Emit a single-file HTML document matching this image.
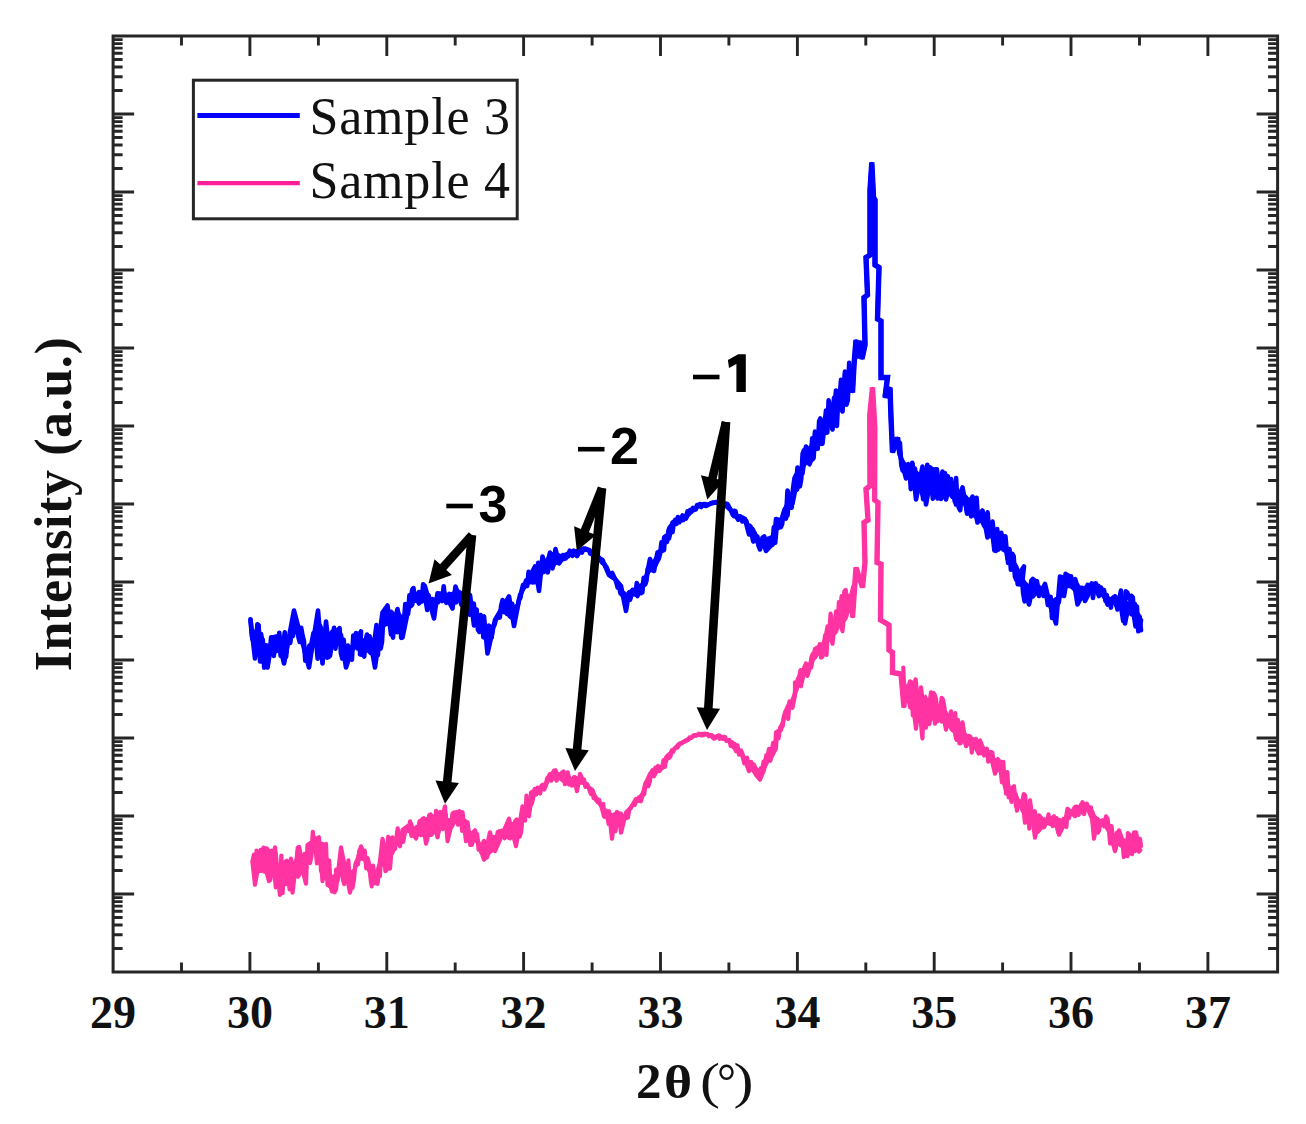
<!DOCTYPE html>
<html><head><meta charset="utf-8"><title>XRD</title>
<style>html,body{margin:0;padding:0;background:#fff;}body{width:1306px;height:1124px;overflow:hidden;}svg{display:block;}text{font-family:"Liberation Serif",serif;}</style>
</head><body>
<svg width="1306" height="1124" viewBox="0 0 1306 1124">
<rect width="1306" height="1124" fill="#fff"/>
<path d="M113.1,90.5h9.5 M1277.6,90.5h-9.5 M113.1,76.8h9.5 M1277.6,76.8h-9.5 M113.1,67.0h9.5 M1277.6,67.0h-9.5 M113.1,59.5h9.5 M1277.6,59.5h-9.5 M113.1,53.3h9.5 M1277.6,53.3h-9.5 M113.1,48.1h9.5 M1277.6,48.1h-9.5 M113.1,43.6h9.5 M1277.6,43.6h-9.5 M113.1,39.6h9.5 M1277.6,39.6h-9.5 M113.1,114.0h21 M1277.6,114.0h-21 M113.1,168.5h9.5 M1277.6,168.5h-9.5 M113.1,154.8h9.5 M1277.6,154.8h-9.5 M113.1,145.0h9.5 M1277.6,145.0h-9.5 M113.1,137.5h9.5 M1277.6,137.5h-9.5 M113.1,131.3h9.5 M1277.6,131.3h-9.5 M113.1,126.1h9.5 M1277.6,126.1h-9.5 M113.1,121.6h9.5 M1277.6,121.6h-9.5 M113.1,117.6h9.5 M1277.6,117.6h-9.5 M113.1,192.0h21 M1277.6,192.0h-21 M113.1,246.5h9.5 M1277.6,246.5h-9.5 M113.1,232.8h9.5 M1277.6,232.8h-9.5 M113.1,223.0h9.5 M1277.6,223.0h-9.5 M113.1,215.5h9.5 M1277.6,215.5h-9.5 M113.1,209.3h9.5 M1277.6,209.3h-9.5 M113.1,204.1h9.5 M1277.6,204.1h-9.5 M113.1,199.6h9.5 M1277.6,199.6h-9.5 M113.1,195.6h9.5 M1277.6,195.6h-9.5 M113.1,270.0h21 M1277.6,270.0h-21 M113.1,324.5h9.5 M1277.6,324.5h-9.5 M113.1,310.8h9.5 M1277.6,310.8h-9.5 M113.1,301.0h9.5 M1277.6,301.0h-9.5 M113.1,293.5h9.5 M1277.6,293.5h-9.5 M113.1,287.3h9.5 M1277.6,287.3h-9.5 M113.1,282.1h9.5 M1277.6,282.1h-9.5 M113.1,277.6h9.5 M1277.6,277.6h-9.5 M113.1,273.6h9.5 M1277.6,273.6h-9.5 M113.1,348.0h21 M1277.6,348.0h-21 M113.1,402.5h9.5 M1277.6,402.5h-9.5 M113.1,388.8h9.5 M1277.6,388.8h-9.5 M113.1,379.0h9.5 M1277.6,379.0h-9.5 M113.1,371.5h9.5 M1277.6,371.5h-9.5 M113.1,365.3h9.5 M1277.6,365.3h-9.5 M113.1,360.1h9.5 M1277.6,360.1h-9.5 M113.1,355.6h9.5 M1277.6,355.6h-9.5 M113.1,351.6h9.5 M1277.6,351.6h-9.5 M113.1,426.0h21 M1277.6,426.0h-21 M113.1,480.5h9.5 M1277.6,480.5h-9.5 M113.1,466.8h9.5 M1277.6,466.8h-9.5 M113.1,457.0h9.5 M1277.6,457.0h-9.5 M113.1,449.5h9.5 M1277.6,449.5h-9.5 M113.1,443.3h9.5 M1277.6,443.3h-9.5 M113.1,438.1h9.5 M1277.6,438.1h-9.5 M113.1,433.6h9.5 M1277.6,433.6h-9.5 M113.1,429.6h9.5 M1277.6,429.6h-9.5 M113.1,504.0h21 M1277.6,504.0h-21 M113.1,558.5h9.5 M1277.6,558.5h-9.5 M113.1,544.8h9.5 M1277.6,544.8h-9.5 M113.1,535.0h9.5 M1277.6,535.0h-9.5 M113.1,527.5h9.5 M1277.6,527.5h-9.5 M113.1,521.3h9.5 M1277.6,521.3h-9.5 M113.1,516.1h9.5 M1277.6,516.1h-9.5 M113.1,511.6h9.5 M1277.6,511.6h-9.5 M113.1,507.6h9.5 M1277.6,507.6h-9.5 M113.1,582.0h21 M1277.6,582.0h-21 M113.1,636.5h9.5 M1277.6,636.5h-9.5 M113.1,622.8h9.5 M1277.6,622.8h-9.5 M113.1,613.0h9.5 M1277.6,613.0h-9.5 M113.1,605.5h9.5 M1277.6,605.5h-9.5 M113.1,599.3h9.5 M1277.6,599.3h-9.5 M113.1,594.1h9.5 M1277.6,594.1h-9.5 M113.1,589.6h9.5 M1277.6,589.6h-9.5 M113.1,585.6h9.5 M1277.6,585.6h-9.5 M113.1,660.0h21 M1277.6,660.0h-21 M113.1,714.5h9.5 M1277.6,714.5h-9.5 M113.1,700.8h9.5 M1277.6,700.8h-9.5 M113.1,691.0h9.5 M1277.6,691.0h-9.5 M113.1,683.5h9.5 M1277.6,683.5h-9.5 M113.1,677.3h9.5 M1277.6,677.3h-9.5 M113.1,672.1h9.5 M1277.6,672.1h-9.5 M113.1,667.6h9.5 M1277.6,667.6h-9.5 M113.1,663.6h9.5 M1277.6,663.6h-9.5 M113.1,738.0h21 M1277.6,738.0h-21 M113.1,792.5h9.5 M1277.6,792.5h-9.5 M113.1,778.8h9.5 M1277.6,778.8h-9.5 M113.1,769.0h9.5 M1277.6,769.0h-9.5 M113.1,761.5h9.5 M1277.6,761.5h-9.5 M113.1,755.3h9.5 M1277.6,755.3h-9.5 M113.1,750.1h9.5 M1277.6,750.1h-9.5 M113.1,745.6h9.5 M1277.6,745.6h-9.5 M113.1,741.6h9.5 M1277.6,741.6h-9.5 M113.1,816.0h21 M1277.6,816.0h-21 M113.1,870.5h9.5 M1277.6,870.5h-9.5 M113.1,856.8h9.5 M1277.6,856.8h-9.5 M113.1,847.0h9.5 M1277.6,847.0h-9.5 M113.1,839.5h9.5 M1277.6,839.5h-9.5 M113.1,833.3h9.5 M1277.6,833.3h-9.5 M113.1,828.1h9.5 M1277.6,828.1h-9.5 M113.1,823.6h9.5 M1277.6,823.6h-9.5 M113.1,819.6h9.5 M1277.6,819.6h-9.5 M113.1,894.0h21 M1277.6,894.0h-21 M113.1,948.5h9.5 M1277.6,948.5h-9.5 M113.1,934.8h9.5 M1277.6,934.8h-9.5 M113.1,925.0h9.5 M1277.6,925.0h-9.5 M113.1,917.5h9.5 M1277.6,917.5h-9.5 M113.1,911.3h9.5 M1277.6,911.3h-9.5 M113.1,906.1h9.5 M1277.6,906.1h-9.5 M113.1,901.6h9.5 M1277.6,901.6h-9.5 M113.1,897.6h9.5 M1277.6,897.6h-9.5 M181.5,972.0v-9.5 M181.5,36.0v9.5 M249.9,972.0v-20 M249.9,36.0v20 M318.4,972.0v-9.5 M318.4,36.0v9.5 M386.8,972.0v-20 M386.8,36.0v20 M455.2,972.0v-9.5 M455.2,36.0v9.5 M523.6,972.0v-20 M523.6,36.0v20 M592.1,972.0v-9.5 M592.1,36.0v9.5 M660.5,972.0v-20 M660.5,36.0v20 M728.9,972.0v-9.5 M728.9,36.0v9.5 M797.4,972.0v-20 M797.4,36.0v20 M865.8,972.0v-9.5 M865.8,36.0v9.5 M934.2,972.0v-20 M934.2,36.0v20 M1002.6,972.0v-9.5 M1002.6,36.0v9.5 M1071.0,972.0v-20 M1071.0,36.0v20 M1139.5,972.0v-9.5 M1139.5,36.0v9.5 M1207.9,972.0v-20 M1207.9,36.0v20" stroke="#262626" stroke-width="2.9" fill="none"/>
<rect x="113.1" y="36.0" width="1164.5" height="936.0" fill="none" stroke="#262626" stroke-width="3"/>
<g fill="none" stroke="#0000ff" stroke-linejoin="round" stroke-linecap="round" stroke-width="4.6">
<path d="M250.5,619.4 L251.9,636.9 L253.2,631.3 L254.6,643.7 L256.0,646.2 L257.4,624.2 L258.7,625.5 L260.1,661.5 L261.5,639.3 L262.8,639.9 L264.2,667.7 L265.6,648.8 L266.9,660.9 L268.3,649.2 L269.7,653.4 L271.1,637.2 L272.4,651.1 L273.8,655.9 L275.2,643.9 L276.5,651.1 L277.9,649.9 L279.3,632.8 L280.6,655.6 L282.0,651.0 L283.4,642.2 L284.8,632.4 L286.1,656.8 L287.5,642.3 L288.9,642.7 L290.2,643.0 L291.6,633.1 L293.0,635.9 L294.3,623.2 L295.7,631.9 L297.1,625.2 L298.5,637.6 L299.8,642.0 L301.2,627.8 L302.6,635.8 L303.9,640.7 L305.3,660.8 L306.7,650.2 L308.0,654.7 L309.4,645.5 L310.8,647.1 L312.2,639.7 L313.5,633.0 L314.9,641.9 L316.3,641.5 L317.6,658.7 L319.0,645.3 L320.4,656.6 L321.7,651.2 L323.1,657.9 L324.5,646.0 L325.9,629.2 L327.2,657.7 L328.6,657.2 L330.0,652.4 L331.3,639.3 L332.7,644.7 L334.1,627.8 L335.4,648.7 L336.8,639.0 L338.2,630.3 L339.6,628.1 L340.9,653.1 L342.3,658.6 L343.7,639.9 L345.0,658.1 L346.4,650.3 L347.8,645.5 L349.1,648.6 L350.5,658.6 L351.9,659.6 L353.3,635.5 L354.6,647.2 L356.0,633.1 L357.4,648.5 L358.7,639.3 L360.1,651.8 L361.5,654.5 L362.8,643.4 L364.2,656.6 L365.6,640.2 L367.0,634.6 L368.3,650.6 L369.7,636.4 L371.1,641.3 L372.4,647.2 L373.8,651.9 L375.2,635.1 L376.5,625.0 L377.9,655.2 L379.3,629.1 L380.7,648.6 L382.0,641.8 L383.4,616.3 L384.8,616.8 L386.1,618.7 L387.5,623.4 L388.9,621.6 L390.2,620.4 L391.6,623.3 L393.0,637.6 L394.4,620.6 L395.7,620.3 L397.1,632.1 L398.5,614.0 L399.8,615.9 L401.2,637.9 L402.6,621.4 L403.9,621.5 L405.3,604.0 L406.7,611.8 L408.1,613.8 L409.4,595.3 L410.8,606.1 L412.2,604.6 L413.5,588.0 L414.9,600.8 L416.3,596.1 L417.6,599.7 L419.0,592.0 L420.4,600.2 L421.8,601.5 L423.1,584.3 L424.5,585.6 L425.9,601.8 L427.2,610.0 L428.6,595.2 L430.0,601.1 L431.3,605.1 L432.7,599.2 L434.1,600.3 L435.5,599.2 L436.8,599.6 L438.2,602.2 L439.6,594.7 L440.9,594.4 L442.3,601.1 L443.7,586.2 L445.0,598.4 L446.4,602.8 L447.8,595.6 L449.2,593.9 L450.5,603.3 L451.9,594.3 L453.3,593.7 L454.6,597.8 L456.0,602.4 L457.4,590.7 L458.7,593.3 L460.1,592.7 L461.5,604.9 L462.9,595.9 L464.2,607.6 L465.6,591.2 L467.0,597.0 L468.3,606.0 L469.7,614.7 L471.1,606.8 L472.4,603.2 L473.8,603.7 L475.2,616.2 L476.6,609.4 L477.9,629.5 L479.3,631.9 L480.7,615.0 L482.0,620.0 L483.4,637.3 L484.8,634.9 L486.1,639.6 L487.5,629.9 L488.9,625.7 L490.3,629.3 L491.6,637.8 L493.0,626.4 L494.4,625.1 L495.7,620.2 L497.1,617.6 L498.5,614.9 L499.8,617.5 L501.2,605.6 L502.6,600.0 L504.0,612.1 L505.3,611.1 L506.7,613.8 L508.1,605.9 L509.4,615.7 L510.8,617.0 L512.2,603.9 L513.5,613.4 L514.9,614.8 L516.3,610.9 L517.7,605.5 L519.0,599.6 L520.4,597.8 L521.8,590.0 L523.1,584.9 L524.5,587.0 L525.9,580.7 L527.2,585.9 L528.6,571.9 L530.0,582.2 L531.4,578.8 L532.7,582.4 L534.1,582.3 L535.5,582.0 L536.8,574.5 L538.2,562.7 L539.6,577.0 L540.9,562.9 L542.3,565.1 L543.7,572.0 L545.1,566.0 L546.4,561.1 L547.8,572.5 L549.2,563.3 L550.5,556.3 L551.9,554.1 L553.3,565.8 L554.6,558.3 L556.0,562.8 L557.4,557.4 L558.8,555.4 L560.1,557.6 L561.5,559.2 L562.9,555.0 L564.2,558.9 L565.6,558.4 L567.0,556.8 L568.3,556.3 L569.7,550.7 L571.1,554.4 L572.5,555.7 L573.8,550.7 L575.2,551.7 L576.6,551.2 L577.9,552.3 L579.3,551.7 L580.7,551.5 L582.0,552.6 L583.4,548.6 L584.8,548.5 L586.2,548.9 L587.5,549.6 L588.9,550.0 L590.3,553.6 L591.6,554.4 L593.0,552.4 L594.4,554.4 L595.7,555.2 L597.1,555.9 L598.5,556.9 L599.9,560.3 L601.2,561.2 L602.6,563.0 L604.0,563.7 L605.3,565.7 L606.7,567.4 L608.1,571.2 L609.4,573.7 L610.8,574.3 L612.2,573.0 L613.6,575.9 L614.9,578.7 L616.3,582.1 L617.7,587.7 L619.0,585.4 L620.4,593.1 L621.8,594.5 L623.1,592.9 L624.5,593.5 L625.9,595.9 L627.3,599.6 L628.6,595.5 L630.0,599.7 L631.4,595.6 L632.7,589.8 L634.1,593.0 L635.5,594.6 L636.8,583.1 L638.2,588.4 L639.6,586.8 L641.0,593.2 L642.3,592.5 L643.7,577.8 L645.1,584.6 L646.4,580.9 L647.8,568.7 L649.2,570.8 L650.5,561.1 L651.9,570.2 L653.3,565.7 L654.7,566.8 L656.0,564.0 L657.4,561.0 L658.8,558.8 L660.1,553.7 L661.5,542.2 L662.9,547.6 L664.2,537.5 L665.6,536.1 L667.0,542.0 L668.4,530.9 L669.7,527.4 L671.1,525.6 L672.5,532.1 L673.8,522.6 L675.2,519.8 L676.6,523.9 L677.9,517.0 L679.3,522.2 L680.7,519.9 L682.1,520.2 L683.4,519.9 L684.8,516.2 L686.2,516.4 L687.5,511.4 L688.9,514.2 L690.3,512.4 L691.6,511.7 L693.0,507.8 L694.4,510.0 L695.8,509.4 L697.1,505.0 L698.5,505.9 L699.9,506.3 L701.2,507.0 L702.6,504.4 L704.0,504.0 L705.3,504.0 L706.7,504.8 L708.1,505.0 L709.5,503.9 L710.8,503.5 L712.2,503.3 L713.6,502.7 L714.9,502.7 L716.3,501.9 L717.7,502.7 L719.0,503.8 L720.4,502.6 L721.8,503.8 L723.2,502.5 L724.5,505.1 L725.9,506.1 L727.3,506.8 L728.6,508.3 L730.0,509.2 L731.4,511.0 L732.7,514.7 L734.1,510.8 L735.5,511.2 L736.9,517.6 L738.2,519.7 L739.6,517.6 L741.0,517.8 L742.3,521.4 L743.7,518.9 L745.1,520.9 L746.4,521.1 L747.8,527.4 L749.2,525.3 L750.6,526.7 L751.9,535.5 L753.3,541.6 L754.7,533.6 L756.0,541.0 L757.4,536.5 L758.8,546.5 L760.1,543.3 L761.5,540.0 L762.9,539.9 L764.3,536.5 L765.6,545.5 L767.0,543.1 L768.4,538.5 L769.7,540.3 L771.1,537.6 L772.5,544.7 L773.8,527.3 L775.2,542.7 L776.6,527.6 L778.0,528.1 L779.3,523.0 L780.7,527.2 L782.1,524.3 L783.4,515.0 L784.8,509.5 L786.2,515.2 L787.5,515.4 L788.9,500.2 L790.3,507.3 L791.7,507.7 L793.0,488.9 L794.4,478.5 L795.8,475.3 L797.1,489.6 L798.5,481.3 L799.9,486.3 L801.2,479.3 L802.6,453.8 L804.0,450.2 L805.4,451.8 L806.7,447.5 L808.1,462.3 L809.5,464.3 L810.8,460.9 L812.2,438.2 L813.6,458.2 L814.9,437.3 L816.3,440.5 L817.7,448.8 L819.1,421.5 L820.4,418.5 L821.8,443.9 L823.2,420.9 L824.5,421.6 L825.9,430.1 L827.3,432.6 L828.6,400.3 L830.0,410.0 L831.4,411.3 L832.8,410.7 L834.1,397.8 L835.5,413.4 L836.9,425.9 L838.2,400.2 L839.6,399.1 L841.0,379.9 L842.3,384.3 L843.7,397.6 L845.1,373.1 L846.5,404.7 L847.8,400.3 L849.2,362.9 L850.6,390.8 M899.9,443.0 L901.3,465.0 L902.6,470.6 L904.0,466.5 L905.4,474.4 L906.7,465.4 L908.1,464.2 L909.5,469.7 L910.8,489.1 L912.2,462.8 L913.6,479.4 L915.0,468.6 L916.3,491.0 L917.7,473.8 L919.1,474.8 L920.4,480.6 L921.8,488.9 L923.2,499.2 L924.5,477.4 L925.9,500.0 L927.3,464.8 L928.7,473.9 L930.0,467.3 L931.4,468.8 L932.8,498.7 L934.1,495.2 L935.5,469.2 L936.9,469.4 L938.2,479.4 L939.6,495.1 L941.0,498.9 L942.4,497.0 L943.7,490.2 L945.1,473.4 L946.5,481.8 L947.8,476.3 L949.2,489.6 L950.6,494.4 L951.9,483.1 L953.3,484.7 L954.7,501.4 L956.1,478.1 L957.4,502.5 L958.8,507.4 L960.2,510.3 L961.5,495.8 L962.9,501.1 L964.3,502.2 L965.6,503.8 L967.0,513.5 L968.4,506.5 L969.8,499.7 L971.1,516.4 L972.5,508.0 L973.9,512.6 L975.2,516.1 L976.6,497.8 L978.0,519.5 L979.3,518.7 L980.7,518.7 L982.1,521.6 L983.5,521.2 L984.8,514.7 L986.2,524.7 L987.6,512.4 L988.9,528.5 L990.3,535.3 L991.7,533.7 L993.0,538.5 L994.4,550.5 L995.8,549.1 L997.2,529.1 L998.5,549.4 L999.9,546.5 L1001.3,532.7 L1002.6,542.8 L1004.0,539.9 L1005.4,536.3 L1006.7,550.7 L1008.1,562.9 L1009.5,549.1 L1010.9,569.8 L1012.2,567.7 L1013.6,555.7 L1015.0,576.8 L1016.3,571.0 L1017.7,584.3 L1019.1,580.8 L1020.4,584.5 L1021.8,576.1 L1023.2,593.7 L1024.6,601.3 L1025.9,599.9 L1027.3,586.7 L1028.7,598.4 L1030.0,590.8 L1031.4,580.5 L1032.8,578.9 L1034.1,580.0 L1035.5,582.6 L1036.9,581.2 L1038.3,589.2 L1039.6,592.9 L1041.0,590.5 L1042.4,589.1 L1043.7,596.0 L1045.1,589.5 L1046.5,594.4 L1047.8,604.9 L1049.2,598.6 L1050.6,596.9 L1052.0,618.0 L1053.3,613.0 L1054.7,600.2 L1056.1,599.3 L1057.4,603.2 L1058.8,602.4 L1060.2,589.6 L1061.5,577.0 L1062.9,579.6 L1064.3,592.7 L1065.6,573.7 L1067.0,582.0 L1068.4,575.6 L1069.8,576.7 L1071.1,576.4 L1072.5,583.0 L1073.9,580.6 L1075.2,579.2 L1076.6,583.8 L1078.0,586.2 L1079.3,594.2 L1080.7,587.7 L1082.1,587.8 L1083.5,595.8 L1084.8,593.4 L1086.2,597.2 L1087.6,584.8 L1088.9,589.7 L1090.3,589.2 L1091.7,583.4 L1093.0,598.0 L1094.4,586.1 L1095.8,583.4 L1097.2,589.4 L1098.5,585.9 L1099.9,593.9 L1101.3,591.2 L1102.6,590.3 L1104.0,590.1 L1105.4,600.6 L1106.7,594.9 L1108.1,603.1 L1109.5,598.9 L1110.9,607.6 L1112.2,598.6 L1113.6,597.3 L1115.0,596.6 L1116.3,605.5 L1117.7,604.1 L1119.1,599.8 L1120.4,594.8 L1121.8,611.9 L1123.2,620.9 L1124.6,609.3 L1125.9,591.4 L1127.3,592.7 L1128.7,596.0 L1130.0,599.5 L1131.4,596.0 L1132.8,597.4 L1134.1,616.7 L1135.5,626.4 L1136.9,606.5 L1138.3,631.3 L1139.6,618.9 L1141.0,630.2"/>
<path d="M250.5,620.0 L255.0,658.5 L261.0,634.0 L267.5,667.5 L272.5,637.5 L277.5,636.2 L284.0,663.5 L294.0,610.5 L309.0,667.5 L318.0,610.5 L322.5,663.5 L326.0,621.5 L330.0,656.0 L334.0,629.0 L341.0,635.0 L346.0,667.5 L354.0,642.5 L361.0,631.5 L360.0,654.5 L370.0,639.0 L375.0,667.5 L382.5,612.5 L387.5,605.5 L391.0,634.5 L397.5,609.0 L402.5,637.5 L412.5,589.0 L419.0,603.5 L425.0,586.5 L434.0,618.5 L437.5,593.2 L445.0,594.0 L452.5,608.5 L455.5,586.5 L461.0,603.5 L466.0,596.0 L470.0,595.0 L474.0,625.5 L484.0,616.5 L487.5,653.5 L495.0,620.0 L509.0,596.5 L514.0,626.0 L520.0,595.0 L535.0,566.5 L539.0,591.0 L542.5,556.5 L546.0,568.5 L550.0,552.5 L552.5,568.5 L555.5,549.0 L559.0,563.5 L565.0,555.0 L572.5,551.5 L577.0,556.0 L581.0,549.5 L589.0,550.0 L594.0,555.0 L602.5,560.0 L609.0,575.0 L615.0,579.0 L621.0,586.0 L626.0,611.0 L629.0,592.5 L634.0,590.5 L637.5,596.0 L640.0,586.0 L645.0,584.0 L650.0,559.0 L654.0,571.0 L657.5,552.5 L664.0,550.0 L665.0,537.5 L669.0,538.5 L672.5,522.5 L680.0,520.0 L682.5,515.5 L686.0,518.5 L690.0,510.0 L695.0,509.0 L700.0,504.0 L706.0,506.0 L712.5,502.5 L720.0,502.5 L727.5,504.0 L734.0,516.2 L740.0,516.2 L745.0,519.0 L749.0,534.5 L752.5,529.0 L756.0,536.0 L760.0,549.5 L762.5,537.5 L766.0,551.0 L774.0,542.5 L776.0,519.0 L781.0,521.0 L784.0,516.5 L786.0,518.5 L787.5,490.5 L792.5,503.5 L796.0,486.0 L797.5,467.5 L802.5,473.5 L806.0,446.5 L812.5,459.5 L815.0,431.5 L822.5,443.5 L826.0,410.5 L832.5,429.5 L836.0,390.5 L842.5,411.5 L845.0,371.5 L847.0,389.5 L849.5,369.5 L852.5,391.0 L854.0,365.0 L856.0,341.5 L858.0,356.5 L860.0,342.5 L862.0,357.5 L865.0,345.0 L864.0,297.5 L867.5,295.0 L866.0,257.5 L870.0,255.0 L870.0,190.0 L871.8,164.0 L873.5,197.5 L875.0,200.0 L875.0,265.0 L879.0,267.5 L877.5,319.0 L881.0,321.0 L881.0,377.5 L887.5,377.5 L885.0,396.0 L890.0,389.0 L891.0,417.5 L892.5,451.0 L897.5,439.0 L900.0,455.0 L906.0,478.5 L912.5,464.0 L916.0,499.5 L922.5,466.5 L926.0,504.5 L932.5,469.0 L937.5,498.5 L942.5,471.5 L946.0,499.5 L951.0,479.0 L956.0,504.5 L962.5,487.5 L967.5,513.5 L972.5,496.5 L977.5,522.5 L982.5,510.5 L987.5,537.5 L992.5,521.5 L996.0,551.0 L1004.0,536.5 L1007.5,558.5 L1012.5,554.0 L1016.0,579.5 L1024.0,566.5 L1022.5,580.0 L1029.0,604.5 L1034.0,581.5 L1039.0,596.0 L1045.0,584.0 L1050.0,605.0 L1056.0,623.5 L1060.0,576.5 L1064.0,596.0 L1067.5,575.5 L1074.0,582.5 L1077.5,604.5 L1086.0,587.5 L1085.0,601.0 L1094.0,584.0 L1099.0,596.0 L1101.0,587.5 L1107.5,604.5 L1115.0,596.5 L1117.5,609.5 L1121.0,590.5 L1125.0,623.5 L1129.0,603.2 L1135.0,604.0 L1136.0,622.5 L1140.0,626.0 L1141.0,620.0"/>
<path d="M250,622.1 L251,624.5 L252,626.6 L253,628.4 L254,629.9 L255,631.0 L256,632.5 L257,634.2 L258,636.1 L259,637.8 L260,639.5 L261,640.9 L262,641.8 L263,642.4 L264,642.8 L265,643.0 L266,643.0 L267,643.2 L268,643.5 L269,643.4 L270,642.8 L271,641.8 L272,640.6 L273,639.2 L274,637.9 L275,636.8 L276,636.5 L277,637.0 L278,638.4 L279,639.9 L280,641.1 L281,641.9 L282,642.3 L283,642.2 L284,641.7 L285,640.8 L286,639.2 L287,637.2 L288,634.5 L289,631.8 L290,629.0 L291,626.3 L292,623.9 L293,622.2 L294,621.1 L295,620.8 L296,621.1 L297,622.1 L298,623.7 L299,626.0 L300,628.9 L301,632.5 L302,636.2 L303,639.8 L304,642.7 L305,644.9 L306,646.3 L307,647.0 L308,646.9 L309,645.5 L310,643.3 L311,640.3 L312,636.6 L313,633.4 L314,630.8 L315,628.8 L316,627.5 L317,626.7 L318,625.3 L319,624.2 L320,623.3 L321,623.4 L322,624.6 L323,627.1 L324,630.4 L325,633.1 L326,634.8 L327,635.1 L328,634.3 L329,632.4 L330,630.7 L331,629.8 L332,629.8 L333,630.6 L334,630.9 L335,630.7 L336,630.5 L337,630.2 L338,630.7 L339,632.3 L340,634.9 L341,637.8 L342,640.5 L343,642.9 L344,644.9 L345,646.5 L346,647.7 L347,648.6 L348,649.0 L349,648.8 L350,648.0 L351,646.6 L352,644.6 L353,642.2 L354,640.8 L355,639.5 L356,639.2 L357,638.9 L358,638.8 L359,638.6 L360,638.4 L361,638.3 L362,638.3 L363,638.2 L364,638.2 L365,638.8 L366,639.9 L367,640.8 L368,642.2 L369,643.3 L370,644.0 L371,644.3 L372,644.1 L373,643.3 L374,642.0 L375,640.1 L376,637.7 L377,635.1 L378,632.0 L379,628.6 L380,624.8 L381,620.5 L382,616.1 L383,612.9 L384,610.9 L385,609.9 L386,609.4 L387,609.1 L388,609.0 L389,609.3 L390,609.6 L391,609.6 L392,609.7 L393,610.5 L394,611.8 L395,613.5 L396,615.1 L397,616.1 L398,616.3 L399,616.2 L400,615.9 L401,615.5 L402,615.0 L403,614.4 L404,613.8 L405,612.8 L406,610.9 L407,608.5 L408,605.8 L409,602.9 L410,600.2 L411,598.0 L412,596.3 L413,595.0 L414,593.9 L415,593.0 L416,592.2 L417,591.6 L418,591.1 L419,590.8 L420,590.7 L421,590.7 L422,590.8 L423,591.1 L424,591.5 L425,592.0 L426,592.6 L427,593.7 L428,595.1 L429,596.4 L430,597.3 L431,598.0 L432,598.5 L433,598.7 L434,598.9 L435,598.9 L436,598.8 L437,598.4 L438,597.8 L439,596.5 L440,594.7 L441,593.0 L442,591.9 L443,591.4 L444,591.9 L445,593.0 L446,594.1 L447,595.1 L448,595.5 L449,595.3 L450,595.1 L451,595.1 L452,595.2 L453,595.4 L454,595.6 L455,595.6 L456,595.2 L457,594.6 L458,593.8 L459,592.8 L460,591.9 L461,591.6 L462,591.8 L463,592.2 L464,592.5 L465,593.3 L466,594.5 L467,596.2 L468,597.9 L469,599.8 L470,601.6 L471,603.3 L472,605.0 L473,606.7 L474,608.3 L475,609.9 L476,611.4 L477,612.7 L478,613.8 L479,615.0 L480,616.6 L481,618.5 L482,620.7 L483,622.7 L484,624.5 L485,626.0 L486,627.3 L487,628.3 L488,629.0 L489,629.3 L490,629.5 L491,629.4 L492,628.6 L493,626.9 L494,624.3 L495,621.3 L496,618.4 L497,615.6 L498,613.3 L499,611.1 L500,609.2 L501,607.4 L502,605.7 L503,604.0 L504,602.7 L505,602.0 L506,602.0 L507,602.6 L508,603.6 L509,604.5 L510,605.0 L511,605.3 L512,605.4 L513,605.3 L514,605.0 L515,604.6 L516,604.0 L517,603.2 L518,601.7 L519,599.8 L520,597.2 L521,594.1 L522,591.0 L523,588.1 L524,585.4 L525,583.0 L526,580.9 L527,579.0 L528,577.1 L529,575.3 L530,574.1 L531,573.4 L532,573.5 L533,573.7 L534,573.4 L535,572.6 L536,571.1 L537,569.3 L538,568.3 L539,567.3 L540,566.7 L541,566.0 L542,565.1 L543,563.5 L544,561.5 L545,559.5 L546,557.8 L547,556.9 L548,556.3 L549,556.0 L550,555.7 L551,555.5 L552,555.1 L553,554.9 L554,555.1 L555,555.4 L556,556.0 L557,556.8 L558,557.0 L559,556.3 L560,555.8 L561,555.6 L562,555.7 L563,555.9 L564,555.7 L565,555.2 L566,554.4 L567,553.6 L568,553.0 L569,552.6 L570,552.4 L571,552.4 L572,552.3 L573,552.2 L574,552.1 L575,551.8 L576,551.6 L577,551.4 L578,551.2 L579,551.1 L580,550.9 L581,550.6 L582,550.3 L583,550.0 L584,549.7 L585,549.6 L586,549.6 L587,549.9 L588,550.3 L589,550.8 L590,551.3 L591,551.9 L592,552.4 L593,553.1 L594,553.8 L595,554.5 L596,555.2 L597,555.9 L598,556.7 L599,557.6 L600,558.7 L601,560.0 L602,561.3 L603,562.7 L604,564.2 L605,565.5 L606,566.9 L607,568.3 L608,569.7 L609,571.1 L610,572.4 L611,573.7 L612,574.8 L613,575.9 L614,577.0 L615,578.0 L616,579.2 L617,580.7 L618,582.4 L619,584.4 L620,586.7 L621,588.6 L622,590.0 L623,591.0 L624,591.8 L625,592.4 L626,592.9 L627,593.3 L628,593.5 L629,593.5 L630,593.4 L631,593.1 L632,592.2 L633,590.7 L634,589.3 L635,588.2 L636,587.4 L637,586.9 L638,586.3 L639,585.6 L640,584.6 L641,583.3 L642,581.5 L643,579.3 L644,576.6 L645,574.0 L646,572.0 L647,570.5 L648,569.4 L649,568.0 L650,566.2 L651,564.0 L652,561.7 L653,559.5 L654,557.6 L655,556.2 L656,555.2 L657,554.5 L658,553.5 L659,551.7 L660,549.5 L661,547.2 L662,545.2 L663,543.4 L664,541.8 L665,540.2 L666,538.2 L667,536.0 L668,533.9 L669,531.8 L670,529.7 L671,527.7 L672,526.3 L673,525.1 L674,523.7 L675,522.3 L676,520.7 L677,519.4 L678,518.4 L679,518.0 L680,517.8 L681,517.4 L682,517.0 L683,516.4 L684,515.7 L685,514.9 L686,514.1 L687,513.3 L688,512.6 L689,512.0 L690,511.4 L691,510.6 L692,509.7 L693,508.7 L694,507.8 L695,507.1 L696,506.5 L697,506.1 L698,505.8 L699,505.5 L700,505.3 L701,505.1 L702,504.8 L703,504.6 L704,504.3 L705,504.2 L706,504.0 L707,503.9 L708,503.8 L709,503.7 L710,503.5 L711,503.3 L712,503.1 L713,502.8 L714,502.6 L715,502.5 L716,502.3 L717,502.3 L718,502.2 L719,502.3 L720,502.4 L721,502.4 L722,502.6 L723,502.9 L724,503.3 L725,504.0 L726,504.7 L727,505.6 L728,506.5 L729,507.5 L730,508.4 L731,509.2 L732,510.1 L733,510.9 L734,511.8 L735,512.7 L736,513.3 L737,514.0 L738,514.5 L739,515.0 L740,515.6 L741,516.5 L742,517.5 L743,518.8 L744,520.0 L745,521.2 L746,522.1 L747,523.0 L748,524.0 L749,525.1 L750,526.2 L751,527.7 L752,529.4 L753,531.0 L754,532.6 L755,533.6 L756,534.0 L757,534.5 L758,535.4 L759,536.7 L760,538.2 L761,539.5 L762,540.6 L763,541.4 L764,541.9 L765,542.0 L766,541.9 L767,541.5 L768,541.1 L769,540.4 L770,539.0 L771,537.2 L772,535.1 L773,532.8 L774,530.5 L775,528.3 L776,526.0 L777,523.6 L778,521.3 L779,519.0 L780,516.6 L781,513.3 L782,510.0 L783,507.8 L784,506.0 L785,504.1 L786,502.8 L787,501.4 L788,499.6 L789,497.3 L790,494.7 L791,491.3 L792,487.2 L793,483.4 L794,480.9 L795,479.3 L796,477.6 L797,475.5 L798,472.8 L799,469.3 L800,465.3 L801,461.7 L802,458.4 L803,455.7 L804,454.1 L805,453.2 L806,452.4 L807,451.2 L808,449.2 L809,446.2 L810,443.5 L811,441.3 L812,439.7 L813,438.6 L814,437.7 L815,436.8 L816,435.9 L817,434.6 L818,432.5 L819,429.6 L820,426.4 L821,424.0 L822,422.4 L823,421.2 L824,420.1 L825,419.2 L826,418.6 L827,417.4 L828,415.2 L829,412.1 L830,408.5 L831,405.5 L832,403.5 L833,402.5 L834,401.7 L835,401.1 L836,400.5 L837,399.4 L838,396.6 L839,392.5 L840,389.2 L841,387.2 L842,385.4 L843,383.9 L844,382.3 L845,381.0 L846,380.0 L847,378.6 L848,375.5 L849,371.1 L850,366.4 L850,383.1 L849,387.4 L848,391.8 L847,394.9 L846,396.8 L845,397.8 L844,399.1 L843,400.7 L842,402.1 L841,403.5 L840,405.4 L839,408.6 L838,412.7 L837,415.6 L836,417.5 L835,418.3 L834,419.3 L833,420.1 L832,421.0 L831,422.5 L830,425.0 L829,428.3 L828,431.4 L827,433.6 L826,435.0 L825,435.8 L824,436.7 L823,437.6 L822,438.5 L821,439.6 L820,441.7 L819,444.7 L818,447.7 L817,449.8 L816,451.1 L815,451.6 L814,452.2 L813,452.7 L812,453.2 L811,454.4 L810,456.4 L809,459.1 L808,462.1 L807,464.5 L806,466.1 L805,466.9 L804,467.9 L803,469.2 L802,471.5 L801,474.4 L800,478.1 L799,482.1 L798,485.9 L797,489.0 L796,491.3 L795,492.9 L794,494.4 L793,496.5 L792,499.6 L791,503.2 L790,506.3 L789,508.9 L788,511.0 L787,512.9 L786,514.6 L785,516.0 L784,517.3 L783,519.0 L782,520.9 L781,523.7 L780,526.4 L779,528.5 L778,530.4 L777,532.5 L776,534.5 L775,536.6 L774,538.7 L773,540.9 L772,543.2 L771,545.3 L770,547.1 L769,548.6 L768,549.3 L767,549.5 L766,549.9 L765,549.9 L764,549.6 L763,549.0 L762,548.0 L761,546.8 L760,545.4 L759,543.8 L758,542.5 L757,541.5 L756,540.9 L755,540.4 L754,539.3 L753,537.5 L752,535.6 L751,533.7 L750,532.0 L749,530.3 L748,528.8 L747,527.5 L746,526.3 L745,525.1 L744,523.9 L743,522.6 L742,521.2 L741,520.1 L740,519.3 L739,518.5 L738,517.9 L737,517.2 L736,516.4 L735,515.5 L734,514.5 L733,513.5 L732,512.4 L731,511.3 L730,510.2 L729,509.0 L728,507.9 L727,506.8 L726,505.9 L725,505.2 L724,504.5 L723,504.0 L722,503.7 L721,503.4 L720,503.3 L719,503.2 L718,503.1 L717,503.1 L716,503.1 L715,503.3 L714,503.4 L713,503.6 L712,503.9 L711,504.1 L710,504.4 L709,504.6 L708,504.8 L707,505.0 L706,505.2 L705,505.4 L704,505.6 L703,505.9 L702,506.2 L701,506.5 L700,506.9 L699,507.2 L698,507.5 L697,507.9 L696,508.3 L695,509.0 L694,509.7 L693,510.7 L692,511.6 L691,512.5 L690,513.3 L689,513.9 L688,514.4 L687,515.1 L686,515.9 L685,516.8 L684,517.7 L683,518.6 L682,519.4 L681,520.1 L680,520.6 L679,521.1 L678,521.7 L677,522.7 L676,524.1 L675,525.8 L674,527.4 L673,528.9 L672,530.3 L671,531.9 L670,534.0 L669,536.3 L668,538.7 L667,541.1 L666,543.5 L665,545.7 L664,547.6 L663,549.3 L662,551.1 L661,553.3 L660,555.8 L659,558.2 L658,560.3 L657,561.5 L656,562.3 L655,563.4 L654,564.8 L653,566.4 L652,568.3 L651,570.6 L650,572.9 L649,574.9 L648,576.5 L647,577.8 L646,579.3 L645,581.1 L644,583.5 L643,586.1 L642,588.4 L641,590.1 L640,591.4 L639,592.3 L638,592.9 L637,593.5 L636,594.1 L635,594.6 L634,595.6 L633,596.9 L632,598.4 L631,599.3 L630,599.8 L629,600.1 L628,600.0 L627,599.6 L626,599.0 L625,598.3 L624,597.5 L623,596.7 L622,595.6 L621,594.0 L620,591.8 L619,589.2 L618,586.8 L617,584.7 L616,583.1 L615,581.7 L614,580.5 L613,579.4 L612,578.1 L611,576.7 L610,575.2 L609,573.6 L608,572.0 L607,570.4 L606,568.9 L605,567.3 L604,565.8 L603,564.3 L602,562.9 L601,561.6 L600,560.5 L599,559.4 L598,558.4 L597,557.4 L596,556.6 L595,555.8 L594,555.1 L593,554.4 L592,553.8 L591,553.2 L590,552.7 L589,552.2 L588,551.8 L587,551.4 L586,551.2 L585,551.3 L584,551.5 L583,551.9 L582,552.3 L581,552.6 L580,552.8 L579,553.0 L578,553.2 L577,553.4 L576,553.7 L575,554.0 L574,554.3 L573,554.5 L572,554.7 L571,554.8 L570,554.9 L569,555.1 L568,555.6 L567,556.1 L566,556.9 L565,557.8 L564,558.3 L563,558.5 L562,558.4 L561,558.4 L560,558.9 L559,559.9 L558,560.9 L557,561.5 L556,561.7 L555,561.8 L554,562.2 L553,562.7 L552,563.3 L551,563.8 L550,564.5 L549,565.4 L548,566.4 L547,567.7 L546,569.3 L545,571.1 L544,573.1 L543,574.9 L542,575.8 L541,576.0 L540,576.0 L539,575.8 L538,576.0 L537,576.9 L536,577.8 L535,578.9 L534,579.3 L533,579.2 L532,578.7 L531,578.8 L530,579.5 L529,580.7 L528,582.5 L527,584.4 L526,586.4 L525,588.6 L524,591.0 L523,593.6 L522,596.5 L521,599.7 L520,603.1 L519,606.1 L518,608.6 L517,610.4 L516,611.6 L515,612.2 L514,612.6 L513,612.9 L512,613.0 L511,612.7 L510,612.1 L509,611.4 L508,610.3 L507,609.1 L506,608.4 L505,608.3 L504,608.6 L503,609.4 L502,610.8 L501,612.5 L500,614.6 L499,616.9 L498,619.4 L497,622.1 L496,624.8 L495,627.8 L494,631.1 L493,634.0 L492,636.1 L491,637.2 L490,637.6 L489,637.6 L488,637.6 L487,637.3 L486,637.0 L485,636.4 L484,635.4 L483,634.2 L482,632.7 L481,630.8 L480,629.0 L479,627.6 L478,626.1 L477,624.7 L476,622.9 L475,620.8 L474,618.7 L473,616.6 L472,614.5 L471,612.5 L470,610.6 L469,608.7 L468,607.2 L467,605.7 L466,604.7 L465,603.9 L464,603.3 L463,602.8 L462,602.1 L461,601.6 L460,601.5 L459,601.8 L458,602.4 L457,602.5 L456,602.4 L455,602.0 L454,601.6 L453,601.4 L452,601.5 L451,601.6 L450,602.0 L449,602.7 L448,603.0 L447,602.8 L446,602.1 L445,601.0 L444,600.3 L443,599.8 L442,599.7 L441,600.3 L440,601.5 L439,602.5 L438,603.8 L437,605.3 L436,606.5 L435,607.5 L434,608.1 L433,608.3 L432,608.1 L431,607.7 L430,607.1 L429,606.2 L428,605.0 L427,603.5 L426,602.4 L425,601.8 L424,601.3 L423,600.9 L422,600.5 L421,600.2 L420,600.0 L419,599.9 L418,600.2 L417,600.8 L416,601.6 L415,602.5 L414,603.7 L413,604.9 L412,606.3 L411,608.2 L410,610.8 L409,613.9 L408,617.2 L407,620.1 L406,622.8 L405,624.9 L404,626.2 L403,627.2 L402,628.0 L401,628.7 L400,629.4 L399,630.0 L398,630.7 L397,631.3 L396,631.0 L395,630.0 L394,628.7 L393,627.4 L392,626.7 L391,626.4 L390,626.2 L389,625.9 L388,625.8 L387,625.9 L386,626.4 L385,627.0 L384,628.0 L383,630.1 L382,633.3 L381,637.6 L380,641.7 L379,645.4 L378,648.3 L377,650.6 L376,652.4 L375,653.8 L374,654.7 L373,655.3 L372,655.6 L371,655.7 L370,655.3 L369,654.6 L368,653.4 L367,651.9 L366,650.9 L365,649.5 L364,648.7 L363,648.4 L362,648.1 L361,647.8 L360,647.6 L359,647.5 L358,647.7 L357,648.1 L356,648.6 L355,649.3 L354,650.9 L353,652.7 L352,655.1 L351,656.8 L350,658.0 L349,658.5 L348,658.5 L347,657.9 L346,656.9 L345,655.8 L344,654.4 L343,652.8 L342,651.0 L341,648.9 L340,646.6 L339,644.6 L338,643.4 L337,643.2 L336,643.8 L335,644.3 L334,644.5 L333,644.2 L332,643.6 L331,643.9 L330,645.1 L329,647.3 L328,649.8 L327,651.2 L326,651.2 L325,649.9 L324,647.2 L323,644.9 L322,643.7 L321,643.6 L320,644.5 L319,646.3 L318,647.4 L317,647.4 L316,647.2 L315,647.2 L314,647.9 L313,649.2 L312,651.0 L311,653.3 L310,655.1 L309,656.2 L308,656.5 L307,656.5 L306,655.9 L305,654.4 L304,652.2 L303,649.3 L302,645.6 L301,641.8 L300,638.0 L299,634.9 L298,632.4 L297,630.7 L296,629.7 L295,629.5 L294,629.9 L293,631.0 L292,632.8 L291,635.3 L290,638.7 L289,642.2 L288,645.6 L287,649.0 L286,651.7 L285,653.3 L284,654.2 L283,654.4 L282,654.3 L281,653.8 L280,653.1 L279,651.9 L278,650.8 L277,649.8 L276,649.3 L275,649.5 L274,650.6 L273,651.9 L272,653.1 L271,654.3 L270,655.4 L269,656.0 L268,656.3 L267,656.4 L266,656.7 L265,657.0 L264,657.1 L263,657.2 L262,657.1 L261,656.8 L260,655.9 L259,654.8 L258,653.2 L257,651.3 L256,649.3 L255,647.7 L254,646.5 L253,645.2 L252,643.5 L251,641.6 L250,639.4Z M900,450.1 L901,452.5 L902,454.7 L903,456.9 L904,459.2 L905,461.1 L906,462.4 L907,463.6 L908,465.2 L909,467.2 L910,469.3 L911,471.0 L912,471.6 L913,471.6 L914,471.3 L915,470.9 L916,470.2 L917,470.2 L918,471.3 L919,473.3 L920,475.7 L921,477.1 L922,477.4 L923,476.7 L924,475.8 L925,474.9 L926,474.0 L927,473.6 L928,474.0 L929,475.2 L930,476.5 L931,477.4 L932,477.6 L933,476.7 L934,475.7 L935,474.9 L936,474.2 L937,474.0 L938,474.8 L939,476.6 L940,478.8 L941,480.2 L942,480.8 L943,480.7 L944,479.9 L945,478.7 L946,478.3 L947,478.7 L948,479.9 L949,482.0 L950,484.1 L951,485.6 L952,486.3 L953,486.3 L954,486.2 L955,486.4 L956,486.5 L957,487.2 L958,488.5 L959,489.7 L960,491.0 L961,492.4 L962,493.4 L963,493.8 L964,494.2 L965,494.5 L966,494.6 L967,495.2 L968,496.3 L969,497.9 L970,499.7 L971,501.5 L972,503.1 L973,504.2 L974,504.6 L975,504.8 L976,505.1 L977,505.7 L978,507.1 L979,509.0 L980,511.3 L981,513.6 L982,515.5 L983,516.8 L984,517.6 L985,517.7 L986,517.8 L987,518.6 L988,520.2 L989,522.6 L990,525.5 L991,527.9 L992,529.7 L993,530.9 L994,531.6 L995,532.0 L996,532.9 L997,533.6 L998,534.5 L999,536.1 L1000,537.8 L1001,539.4 L1002,540.6 L1003,541.2 L1004,541.8 L1005,542.4 L1006,543.1 L1007,544.2 L1008,546.1 L1009,548.5 L1010,551.5 L1011,554.6 L1012,557.0 L1013,558.9 L1014,560.3 L1015,561.3 L1016,562.5 L1017,563.8 L1018,565.3 L1019,567.8 L1020,570.3 L1021,572.5 L1022,574.7 L1023,576.6 L1024,578.2 L1025,579.6 L1026,581.0 L1027,582.2 L1028,583.2 L1029,584.1 L1030,585.2 L1031,586.3 L1032,586.5 L1033,586.7 L1034,586.6 L1035,586.1 L1036,585.3 L1037,584.8 L1038,584.6 L1039,584.4 L1040,584.9 L1041,585.8 L1042,586.6 L1043,587.4 L1044,588.4 L1045,589.4 L1046,590.6 L1047,592.2 L1048,593.8 L1049,596.1 L1050,598.5 L1051,600.1 L1052,600.9 L1053,600.8 L1054,599.5 L1055,598.1 L1056,597.1 L1057,596.2 L1058,595.3 L1059,593.8 L1060,591.7 L1061,588.8 L1062,585.4 L1063,582.1 L1064,579.7 L1065,578.3 L1066,577.7 L1067,578.0 L1068,578.2 L1069,578.5 L1070,578.9 L1071,579.4 L1072,580.6 L1073,582.0 L1074,583.6 L1075,585.3 L1076,586.7 L1077,588.0 L1078,589.0 L1079,590.3 L1080,591.3 L1081,592.4 L1082,593.1 L1083,593.1 L1084,592.5 L1085,591.6 L1086,590.7 L1087,589.7 L1088,588.8 L1089,588.1 L1090,587.7 L1091,587.7 L1092,587.6 L1093,587.8 L1094,587.4 L1095,586.8 L1096,586.6 L1097,586.7 L1098,587.1 L1099,587.9 L1100,589.1 L1101,590.5 L1102,591.9 L1103,592.9 L1104,593.7 L1105,594.3 L1106,594.7 L1107,595.2 L1108,595.9 L1109,596.4 L1110,597.1 L1111,597.9 L1112,598.6 L1113,598.6 L1114,598.1 L1115,597.2 L1116,596.6 L1117,596.8 L1118,597.6 L1119,598.9 L1120,599.8 L1121,600.7 L1122,601.2 L1123,601.0 L1124,600.7 L1125,600.3 L1126,600.5 L1127,601.0 L1128,601.9 L1129,602.5 L1130,603.5 L1131,604.2 L1132,604.4 L1133,604.9 L1134,605.8 L1135,606.8 L1136,608.1 L1137,609.5 L1138,610.9 L1139,612.2 L1140,613.6 L1141,614.9 L1142,615.9 L1142,628.1 L1141,627.1 L1140,625.7 L1139,624.4 L1138,623.0 L1137,621.7 L1136,620.3 L1135,619.0 L1134,618.1 L1133,617.2 L1132,616.7 L1131,616.5 L1130,615.9 L1129,614.9 L1128,614.3 L1127,613.4 L1126,612.8 L1125,612.6 L1124,612.8 L1123,612.9 L1122,612.3 L1121,611.1 L1120,609.6 L1119,607.6 L1118,605.4 L1117,604.1 L1116,603.5 L1115,603.5 L1114,604.4 L1113,604.8 L1112,604.8 L1111,604.1 L1110,603.2 L1109,602.4 L1108,601.8 L1107,601.1 L1106,600.5 L1105,600.2 L1104,599.6 L1103,598.8 L1102,597.8 L1101,596.4 L1100,595.0 L1099,594.0 L1098,593.2 L1097,592.8 L1096,592.7 L1095,592.9 L1094,593.5 L1093,593.9 L1092,593.8 L1091,593.9 L1090,594.0 L1089,594.4 L1088,595.1 L1087,596.1 L1086,597.2 L1085,598.3 L1084,599.5 L1083,600.4 L1082,600.6 L1081,600.3 L1080,599.4 L1079,598.6 L1078,597.5 L1077,596.7 L1076,595.6 L1075,594.2 L1074,592.6 L1073,591.1 L1072,589.9 L1071,588.9 L1070,588.5 L1069,588.3 L1068,588.1 L1067,588.0 L1066,587.9 L1065,588.7 L1064,590.4 L1063,593.1 L1062,596.6 L1061,600.0 L1060,602.9 L1059,605.4 L1058,607.2 L1057,608.4 L1056,609.7 L1055,610.9 L1054,611.7 L1053,612.4 L1052,612.3 L1051,610.8 L1050,608.5 L1049,605.9 L1048,603.6 L1047,601.3 L1046,599.8 L1045,598.5 L1044,597.1 L1043,595.8 L1042,594.6 L1041,593.7 L1040,593.0 L1039,593.1 L1038,593.9 L1037,595.1 L1036,596.3 L1035,597.6 L1034,598.4 L1033,598.8 L1032,598.6 L1031,598.3 L1030,597.4 L1029,596.6 L1028,596.0 L1027,595.3 L1026,594.4 L1025,593.4 L1024,591.8 L1023,590.1 L1022,588.1 L1021,585.8 L1020,583.2 L1019,580.3 L1018,577.4 L1017,575.5 L1016,573.8 L1015,572.4 L1014,571.4 L1013,569.9 L1012,567.9 L1011,565.2 L1010,562.2 L1009,559.1 L1008,556.7 L1007,555.0 L1006,553.9 L1005,553.3 L1004,552.6 L1003,552.1 L1002,551.4 L1001,550.2 L1000,548.6 L999,546.9 L998,545.4 L997,544.5 L996,543.9 L995,543.5 L994,543.0 L993,542.3 L992,541.0 L991,539.2 L990,536.9 L989,534.4 L988,532.1 L987,530.6 L986,529.8 L985,529.3 L984,528.7 L983,527.9 L982,526.4 L981,524.2 L980,521.9 L979,519.7 L978,517.7 L977,516.3 L976,515.7 L975,515.4 L974,515.2 L973,514.8 L972,513.7 L971,512.1 L970,510.3 L969,508.5 L968,506.9 L967,506.0 L966,505.7 L965,505.6 L964,505.5 L963,505.4 L962,505.0 L961,504.0 L960,502.9 L959,501.7 L958,500.5 L957,499.4 L956,499.0 L955,498.9 L954,499.0 L953,499.1 L952,499.3 L951,498.7 L950,497.4 L949,495.3 L948,493.6 L947,492.6 L946,492.3 L945,492.8 L944,494.1 L943,495.0 L942,495.2 L941,494.7 L940,493.5 L939,491.8 L938,490.6 L937,490.5 L936,491.3 L935,492.8 L934,494.0 L933,495.1 L932,496.0 L931,495.8 L930,494.9 L929,493.6 L928,492.5 L927,492.3 L926,493.0 L925,494.1 L924,495.0 L923,495.8 L922,496.5 L921,496.1 L920,494.5 L919,492.0 L918,489.7 L917,488.3 L916,487.9 L915,487.7 L914,487.1 L913,486.3 L912,485.3 L911,483.7 L910,481.7 L909,479.2 L908,477.2 L907,475.6 L906,474.5 L905,473.2 L904,471.2 L903,469.0 L902,466.7 L901,464.5 L900,462.4Z" fill="#0000ff" stroke="none"/>
<path d="M852.5,392.5 L854.0,365.0 L856.0,340.0 L858.0,358.0 L860.0,341.0 L862.0,359.0 L865.0,345.0 L864.0,297.5 L867.5,295.0 L866.0,257.5 L870.0,255.0 L870.0,190.0 L871.8,162.5 L873.5,197.5 L875.0,200.0 L875.0,265.0 L879.0,267.5 L877.5,319.0 L881.0,321.0 L881.0,377.5 L887.5,377.5 L885.0,397.5 L890.0,387.5 L891.0,417.5 L892.5,452.5 L897.5,437.5 L900.0,455.0" stroke-width="5.4" stroke-linejoin="miter" stroke-linecap="butt"/>
</g>
<g fill="none" stroke="#ff33a2" stroke-linejoin="round" stroke-linecap="round" stroke-width="4.2">
<path d="M252.5,861.1 L253.9,854.6 L255.2,871.9 L256.6,850.5 L258.0,866.8 L259.4,861.0 L260.7,849.8 L262.1,865.6 L263.5,847.5 L264.8,863.1 L266.2,848.3 L267.6,849.3 L268.9,862.7 L270.3,879.9 L271.7,850.7 L273.1,856.6 L274.4,874.0 L275.8,887.4 L277.2,874.2 L278.5,868.4 L279.9,894.9 L281.3,855.6 L282.6,893.1 L284.0,868.1 L285.4,861.7 L286.8,860.7 L288.1,868.3 L289.5,889.3 L290.9,858.7 L292.2,873.9 L293.6,874.4 L295.0,862.5 L296.3,870.7 L297.7,847.7 L299.1,847.0 L300.5,853.8 L301.8,872.2 L303.2,859.6 L304.6,853.9 L305.9,862.7 L307.3,856.4 L308.7,846.5 L310.0,863.0 L311.4,856.5 L312.8,831.8 L314.2,845.2 L315.5,846.8 L316.9,863.3 L318.3,858.8 L319.6,843.8 L321.0,870.8 L322.4,843.9 L323.7,861.6 L325.1,877.7 L326.5,858.9 L327.9,876.4 L329.2,860.5 L330.6,886.5 L332.0,891.4 L333.3,885.3 L334.7,892.3 L336.1,869.5 L337.4,880.9 L338.8,873.9 L340.2,872.2 L341.6,866.5 L342.9,879.7 L344.3,884.1 L345.7,870.4 L347.0,878.4 L348.4,860.4 L349.8,883.0 L351.1,881.0 L352.5,888.0 L353.9,880.2 L355.3,864.6 L356.6,861.2 L358.0,864.3 L359.4,850.1 L360.7,856.5 L362.1,850.9 L363.5,850.4 L364.8,850.8 L366.2,868.3 L367.6,858.1 L369.0,863.6 L370.3,869.7 L371.7,886.4 L373.1,865.6 L374.4,875.5 L375.8,875.2 L377.2,882.3 L378.5,876.0 L379.9,876.1 L381.3,853.6 L382.7,855.0 L384.0,851.2 L385.4,871.1 L386.8,869.8 L388.1,836.8 L389.5,838.3 L390.9,840.6 L392.2,840.6 L393.6,847.6 L395.0,848.9 L396.4,838.0 L397.7,828.4 L399.1,836.4 L400.5,834.6 L401.8,836.3 L403.2,841.9 L404.6,834.2 L405.9,829.9 L407.3,830.4 L408.7,831.1 L410.1,821.4 L411.4,835.9 L412.8,834.4 L414.2,836.2 L415.5,835.0 L416.9,826.9 L418.3,827.3 L419.6,821.2 L421.0,835.2 L422.4,819.8 L423.8,818.3 L425.1,821.5 L426.5,819.2 L427.9,823.9 L429.2,815.1 L430.6,814.4 L432.0,819.1 L433.3,816.6 L434.7,823.0 L436.1,810.9 L437.5,837.5 L438.8,827.0 L440.2,811.8 L441.6,816.9 L442.9,820.5 L444.3,821.0 L445.7,814.0 L447.0,831.6 L448.4,834.9 L449.8,822.3 L451.2,823.2 L452.5,813.6 L453.9,812.5 L455.3,816.4 L456.6,811.9 L458.0,824.7 L459.4,811.1 L460.7,812.8 L462.1,830.8 L463.5,824.9 L464.9,820.6 L466.2,829.8 L467.6,822.2 L469.0,833.7 L470.3,845.0 L471.7,844.9 L473.1,841.3 L474.4,831.6 L475.8,836.5 L477.2,834.1 L478.6,849.7 L479.9,846.3 L481.3,852.5 L482.7,843.9 L484.0,840.9 L485.4,854.5 L486.8,857.7 L488.1,854.1 L489.5,852.0 L490.9,851.3 L492.3,848.7 L493.6,836.8 L495.0,842.3 L496.4,839.1 L497.7,832.1 L499.1,831.2 L500.5,834.8 L501.8,830.7 L503.2,836.2 L504.6,838.2 L506.0,827.8 L507.3,836.4 L508.7,837.7 L510.1,838.3 L511.4,827.9 L512.8,824.1 L514.2,823.6 L515.5,820.7 L516.9,819.4 L518.3,831.1 L519.7,836.6 L521.0,832.5 L522.4,819.2 L523.8,819.3 L525.1,820.6 L526.5,795.7 L527.9,808.6 L529.2,812.3 L530.6,805.4 L532.0,802.9 L533.4,796.6 L534.7,788.9 L536.1,794.5 L537.5,787.6 L538.8,792.1 L540.2,793.5 L541.6,785.6 L542.9,784.7 L544.3,789.5 L545.7,784.5 L547.1,778.4 L548.4,776.9 L549.8,774.2 L551.2,780.7 L552.5,778.5 L553.9,770.7 L555.3,778.3 L556.6,780.6 L558.0,777.4 L559.4,774.3 L560.8,777.1 L562.1,772.4 L563.5,771.4 L564.9,784.2 L566.2,780.5 L567.6,779.0 L569.0,784.5 L570.3,778.5 L571.7,785.6 L573.1,785.2 L574.5,777.1 L575.8,778.0 L577.2,778.7 L578.6,778.7 L579.9,782.8 L581.3,780.2 L582.7,782.2 L584.0,779.4 L585.4,786.9 L586.8,783.9 L588.2,786.2 L589.5,790.2 L590.9,794.1 L592.3,791.6 L593.6,798.1 L595.0,796.4 L596.4,798.2 L597.7,802.1 L599.1,799.7 L600.5,805.0 L601.9,805.0 L603.2,803.9 L604.6,816.8 L606.0,810.6 L607.3,817.0 L608.7,824.0 L610.1,820.8 L611.4,814.9 L612.8,820.0 L614.2,821.9 L615.6,831.1 L616.9,811.8 L618.3,824.2 L619.7,813.3 L621.0,813.7 L622.4,824.0 L623.8,817.8 L625.1,818.0 L626.5,818.1 L627.9,817.6 L629.3,809.7 L630.6,808.1 L632.0,805.6 L633.4,804.6 L634.7,805.0 L636.1,801.4 L637.5,801.1 L638.8,797.5 L640.2,801.0 L641.6,795.0 L643.0,795.2 L644.3,794.0 L645.7,782.5 L647.1,783.9 L648.4,786.2 L649.8,781.7 L651.2,772.6 L652.5,770.1 L653.9,772.4 L655.3,767.6 L656.7,768.2 L658.0,766.0 L659.4,771.1 L660.8,769.1 L662.1,768.3 L663.5,760.2 L664.9,762.7 L666.2,761.1 L667.6,755.6 L669.0,758.0 L670.4,756.7 L671.7,750.4 L673.1,751.9 L674.5,749.0 L675.8,747.5 L677.2,747.7 L678.6,745.7 L679.9,743.6 L681.3,743.5 L682.7,742.4 L684.1,741.4 L685.4,740.5 L686.8,739.7 L688.2,739.9 L689.5,737.4 L690.9,737.9 L692.3,737.1 L693.6,735.3 L695.0,735.5 L696.4,735.7 L697.8,734.8 L699.1,733.7 L700.5,735.4 L701.9,734.9 L703.2,735.3 L704.6,733.6 L706.0,734.1 L707.3,733.9 L708.7,736.3 L710.1,735.2 L711.5,735.0 L712.8,736.0 L714.2,737.6 L715.6,737.7 L716.9,736.2 L718.3,736.1 L719.7,738.9 L721.0,737.9 L722.4,738.7 L723.8,736.8 L725.2,737.1 L726.5,741.0 L727.9,740.6 L729.3,739.9 L730.6,745.9 L732.0,745.3 L733.4,747.1 L734.7,744.0 L736.1,750.6 L737.5,745.3 L738.9,754.7 L740.2,752.5 L741.6,754.3 L743.0,758.0 L744.3,763.4 L745.7,758.5 L747.1,757.7 L748.4,764.0 L749.8,762.7 L751.2,762.0 L752.6,765.3 L753.9,764.6 L755.3,767.6 L756.7,769.9 L758.0,770.0 L759.4,777.2 L760.8,768.2 L762.1,770.7 L763.5,761.7 L764.9,763.5 L766.3,755.0 L767.6,755.9 L769.0,748.9 L770.4,760.8 L771.7,751.7 L773.1,742.8 L774.5,745.9 L775.8,749.4 L777.2,731.5 L778.6,738.2 L780.0,727.7 L781.3,725.5 L782.7,726.3 L784.1,715.9 L785.4,716.1 L786.8,715.6 L788.2,718.8 L789.5,701.3 L790.9,707.7 L792.3,703.2 L793.7,698.3 L795.0,692.3 L796.4,689.4 L797.8,678.7 L799.1,677.0 L800.5,670.1 L801.9,682.1 L803.2,670.9 L804.6,666.6 L806.0,663.5 L807.4,676.0 L808.7,671.4 L810.1,665.8 L811.5,657.1 L812.8,653.9 L814.2,653.7 L815.6,654.8 L816.9,647.5 L818.3,651.6 L819.7,644.1 L821.1,657.6 L822.4,656.7 L823.8,644.4 L825.2,635.0 L826.5,654.8 L827.9,632.3 L829.3,631.2 L830.6,613.7 L832.0,624.7 L833.4,626.8 L834.8,627.2 L836.1,615.3 L837.5,626.3 L838.9,602.0 L840.2,608.6 L841.6,596.2 L843.0,609.0 L844.3,591.3 L845.7,589.9 L847.1,601.8 L848.5,595.9 L849.8,605.0 L851.2,599.0 L852.6,608.2 M903.3,667.7 L904.6,699.9 L906.0,699.8 L907.4,692.8 L908.7,699.6 L910.1,707.5 L911.5,682.1 L912.8,715.3 L914.2,689.9 L915.6,679.3 L917.0,691.9 L918.3,720.6 L919.7,693.2 L921.1,725.1 L922.4,738.3 L923.8,707.1 L925.2,699.3 L926.5,705.6 L927.9,718.3 L929.3,724.1 L930.7,717.7 L932.0,718.3 L933.4,692.8 L934.8,695.0 L936.1,699.4 L937.5,721.3 L938.9,706.1 L940.2,717.9 L941.6,697.8 L943.0,699.5 L944.4,707.2 L945.7,722.7 L947.1,724.7 L948.5,725.8 L949.8,715.8 L951.2,725.2 L952.6,724.3 L953.9,724.6 L955.3,713.1 L956.7,739.8 L958.1,720.1 L959.4,743.4 L960.8,743.1 L962.2,724.1 L963.5,734.2 L964.9,741.9 L966.3,745.5 L967.6,737.7 L969.0,736.0 L970.4,736.6 L971.8,752.6 L973.1,739.1 L974.5,745.4 L975.9,738.8 L977.2,745.3 L978.6,753.6 L980.0,742.0 L981.3,753.2 L982.7,749.2 L984.1,755.5 L985.5,753.2 L986.8,748.6 L988.2,761.6 L989.6,758.6 L990.9,751.9 L992.3,752.4 L993.7,762.6 L995.0,762.6 L996.4,760.5 L997.8,759.0 L999.2,764.8 L1000.5,767.6 L1001.9,782.3 L1003.3,761.8 L1004.6,785.6 L1006.0,789.8 L1007.4,772.0 L1008.7,797.5 L1010.1,794.6 L1011.5,801.9 L1012.9,789.4 L1014.2,792.3 L1015.6,794.4 L1017.0,810.7 L1018.3,802.3 L1019.7,801.5 L1021.1,805.0 L1022.4,801.7 L1023.8,794.0 L1025.2,795.4 L1026.6,821.0 L1027.9,806.0 L1029.3,828.7 L1030.7,810.8 L1032.0,811.6 L1033.4,818.6 L1034.8,811.2 L1036.1,817.3 L1037.5,832.2 L1038.9,830.6 L1040.3,828.8 L1041.6,823.8 L1043.0,827.4 L1044.4,827.0 L1045.7,820.9 L1047.1,823.2 L1048.5,814.3 L1049.8,823.9 L1051.2,820.4 L1052.6,826.0 L1054.0,825.3 L1055.3,821.0 L1056.7,818.1 L1058.1,832.2 L1059.4,819.8 L1060.8,824.9 L1062.2,821.9 L1063.5,818.9 L1064.9,824.7 L1066.3,827.0 L1067.6,812.9 L1069.0,818.0 L1070.4,811.6 L1071.8,813.7 L1073.1,810.7 L1074.5,807.4 L1075.9,806.5 L1077.2,806.5 L1078.6,815.0 L1080.0,808.9 L1081.3,804.7 L1082.7,812.7 L1084.1,814.1 L1085.5,806.1 L1086.8,803.6 L1088.2,806.8 L1089.6,809.4 L1090.9,814.6 L1092.3,811.7 L1093.7,815.8 L1095.0,817.0 L1096.4,823.6 L1097.8,832.7 L1099.2,830.2 L1100.5,821.3 L1101.9,820.6 L1103.3,823.0 L1104.6,822.0 L1106.0,822.6 L1107.4,818.4 L1108.7,826.8 L1110.1,843.7 L1111.5,826.0 L1112.9,836.8 L1114.2,840.8 L1115.6,848.9 L1117.0,832.5 L1118.3,834.8 L1119.7,835.4 L1121.1,839.9 L1122.4,841.4 L1123.8,857.1 L1125.2,854.3 L1126.6,855.2 L1127.9,833.1 L1129.3,834.5 L1130.7,851.0 L1132.0,854.2 L1133.4,844.8 L1134.8,845.3 L1136.1,832.4 L1137.5,840.7 L1138.9,851.7 L1140.3,850.0"/>
<path d="M252.5,862.5 L255.0,884.7 L261.0,850.3 L269.0,881.2 L275.0,847.3 L280.0,892.7 L290.0,861.3 L292.5,892.7 L297.5,851.3 L306.0,883.7 L307.5,845.0 L319.0,837.3 L322.5,881.2 L326.0,843.8 L327.5,885.0 L336.0,889.7 L341.0,847.3 L350.0,892.7 L354.0,872.5 L361.0,846.3 L370.0,872.5 L371.0,882.5 L377.5,883.8 L382.5,838.8 L390.0,868.7 L392.5,837.3 L400.0,846.2 L402.5,830.0 L411.0,823.8 L416.0,838.7 L422.5,818.8 L426.0,843.7 L432.5,818.8 L437.5,836.2 L445.0,806.3 L447.5,841.2 L452.5,820.0 L462.5,812.3 L466.0,841.2 L475.0,830.3 L477.5,840.0 L484.0,859.7 L490.0,832.3 L495.0,851.2 L509.0,818.8 L516.0,846.2 L522.5,806.3 L529.0,816.2 L531.0,792.5 L540.0,787.5 L545.0,787.5 L550.0,775.0 L555.5,770.3 L559.0,777.5 L564.0,781.2 L567.5,772.3 L571.0,783.7 L574.0,777.3 L577.0,791.2 L580.0,773.8 L585.0,785.0 L592.5,790.0 L596.0,800.0 L601.0,805.0 L604.0,816.2 L609.0,811.3 L612.0,838.7 L615.0,813.8 L619.0,815.0 L621.0,832.7 L626.0,812.5 L631.0,807.5 L636.0,798.8 L641.0,801.2 L645.0,785.0 L650.0,773.8 L654.0,776.2 L659.0,766.8 L665.0,766.8 L666.0,757.5 L671.0,752.5 L679.0,744.0 L686.0,741.0 L695.0,735.0 L702.5,733.8 L710.0,735.0 L714.0,738.7 L719.0,735.3 L726.0,740.0 L732.5,742.5 L736.0,751.2 L741.0,750.3 L746.0,762.5 L749.0,771.2 L752.5,763.8 L756.0,775.0 L760.0,779.7 L764.0,770.0 L766.0,758.2 L771.0,758.2 L775.0,750.0 L776.0,732.5 L781.0,730.0 L785.0,712.5 L789.0,703.8 L792.5,707.7 L795.0,695.0 L795.0,682.3 L801.0,686.2 L805.0,666.3 L811.0,667.7 L815.0,648.8 L822.5,654.7 L827.5,626.3 L832.5,643.7 L836.0,611.3 L842.5,631.2 L846.0,593.8 L852.5,616.2 L856.0,568.8 L862.5,586.2 L865.0,562.5 L864.0,522.5 L868.0,520.0 L866.0,489.0 L870.0,486.0 L869.8,415.0 L872.5,388.8 L874.8,427.5 L874.6,500.0 L878.0,502.5 L877.0,562.5 L881.0,564.0 L880.5,620.0 L889.0,625.0 L889.0,650.0 L892.5,652.5 L892.5,672.5 L901.0,674.0 L904.0,706.2 L910.0,681.3 L916.0,728.7 L921.0,687.3 L926.0,727.7 L931.0,692.3 L935.0,723.7 L941.0,702.3 L946.0,729.7 L951.0,711.3 L956.0,738.7 L962.5,722.3 L966.0,746.2 L971.0,738.8 L977.5,751.2 L980.0,740.3 L985.0,753.7 L990.0,752.3 L995.0,773.7 L1000.0,761.3 L1005.0,775.0 L1006.0,793.7 L1014.0,786.3 L1016.0,806.2 L1022.5,800.3 L1025.0,822.7 L1030.0,800.3 L1035.0,837.7 L1039.0,815.3 L1046.0,823.7 L1054.0,816.3 L1059.0,834.7 L1065.0,822.5 L1067.5,808.8 L1075.0,816.2 L1082.5,802.3 L1086.0,808.7 L1091.0,807.3 L1094.0,838.7 L1097.5,818.8 L1104.0,826.2 L1106.0,816.3 L1110.0,832.5 L1115.0,851.2 L1119.0,830.3 L1124.0,845.0 L1127.5,856.2 L1134.0,832.3 L1135.0,851.2 L1140.0,838.8 L1141.0,846.0"/>
<path d="M252,860.1 L253,860.3 L254,860.1 L255,859.5 L256,858.9 L257,858.5 L258,858.4 L259,858.7 L260,858.8 L261,858.5 L262,857.9 L263,857.7 L264,857.5 L265,857.6 L266,857.8 L267,857.9 L268,858.0 L269,857.5 L270,857.1 L271,857.2 L272,858.2 L273,859.7 L274,861.4 L275,862.5 L276,863.0 L277,863.2 L278,863.6 L279,864.3 L280,865.3 L281,866.7 L282,868.1 L283,868.7 L284,868.6 L285,868.5 L286,868.9 L287,868.6 L288,867.9 L289,866.9 L290,865.5 L291,863.8 L292,862.1 L293,860.7 L294,859.8 L295,859.3 L296,859.2 L297,859.5 L298,859.4 L299,858.8 L300,858.3 L301,856.9 L302,855.3 L303,854.4 L304,853.9 L305,853.4 L306,852.3 L307,850.8 L308,848.8 L309,846.5 L310,843.7 L311,840.9 L312,837.4 L313,834.1 L314,833.3 L315,834.7 L316,837.3 L317,840.1 L318,842.1 L319,843.4 L320,844.2 L321,846.7 L322,850.3 L323,853.8 L324,857.4 L325,861.0 L326,864.5 L327,867.3 L328,869.3 L329,870.4 L330,871.3 L331,872.5 L332,873.9 L333,875.1 L334,874.1 L335,871.5 L336,869.1 L337,866.9 L338,865.0 L339,863.5 L340,862.3 L341,861.5 L342,861.0 L343,861.0 L344,861.9 L345,863.1 L346,864.6 L347,866.4 L348,868.2 L349,869.4 L350,870.1 L351,870.2 L352,869.7 L353,868.7 L354,867.2 L355,864.9 L356,862.3 L357,859.5 L358,857.2 L359,855.4 L360,854.1 L361,853.5 L362,853.4 L363,853.7 L364,854.4 L365,855.9 L366,857.8 L367,860.0 L368,862.5 L369,864.9 L370,867.3 L371,869.4 L372,871.0 L373,871.6 L374,871.4 L375,870.4 L376,868.2 L377,865.6 L378,862.6 L379,859.7 L380,856.9 L381,854.4 L382,852.2 L383,850.4 L384,848.8 L385,847.0 L386,845.0 L387,843.4 L388,842.6 L389,842.6 L390,842.9 L391,843.0 L392,842.8 L393,842.5 L394,842.0 L395,840.9 L396,838.9 L397,836.6 L398,834.8 L399,833.9 L400,833.2 L401,832.4 L402,831.5 L403,830.3 L404,829.1 L405,827.7 L406,826.4 L407,825.2 L408,824.7 L409,824.9 L410,825.5 L411,826.0 L412,826.3 L413,826.5 L414,826.4 L415,826.0 L416,825.3 L417,824.9 L418,825.1 L419,825.4 L420,826.1 L421,826.4 L422,826.2 L423,825.6 L424,825.0 L425,824.2 L426,823.4 L427,822.8 L428,822.7 L429,823.1 L430,823.7 L431,824.1 L432,823.9 L433,823.0 L434,822.0 L435,820.9 L436,819.8 L437,818.7 L438,817.6 L439,816.8 L440,816.8 L441,817.5 L442,818.4 L443,819.0 L444,819.1 L445,818.8 L446,818.6 L447,818.4 L448,818.1 L449,818.1 L450,818.3 L451,818.7 L452,819.2 L453,818.8 L454,817.3 L455,815.3 L456,813.6 L457,812.8 L458,812.9 L459,814.0 L460,815.8 L461,817.7 L462,819.4 L463,820.9 L464,822.2 L465,823.6 L466,824.9 L467,826.3 L468,827.7 L469,828.9 L470,830.1 L471,830.9 L472,831.4 L473,831.8 L474,832.5 L475,833.7 L476,835.1 L477,836.8 L478,838.6 L479,840.2 L480,841.6 L481,842.6 L482,843.2 L483,843.2 L484,842.7 L485,842.2 L486,841.9 L487,841.7 L488,841.5 L489,841.3 L490,840.8 L491,839.8 L492,839.1 L493,838.6 L494,838.3 L495,838.1 L496,838.1 L497,837.9 L498,837.4 L499,836.5 L500,835.2 L501,833.4 L502,831.4 L503,829.2 L504,827.3 L505,825.9 L506,825.0 L507,824.7 L508,824.9 L509,825.5 L510,826.3 L511,826.5 L512,826.4 L513,826.1 L514,825.6 L515,824.8 L516,823.8 L517,822.4 L518,820.9 L519,819.2 L520,817.5 L521,815.7 L522,813.8 L523,811.4 L524,808.8 L525,805.9 L526,803.3 L527,801.4 L528,799.9 L529,798.9 L530,797.9 L531,796.9 L532,795.5 L533,793.9 L534,792.3 L535,790.5 L536,788.5 L537,787.2 L538,786.7 L539,786.4 L540,785.9 L541,785.3 L542,784.5 L543,783.6 L544,782.6 L545,781.7 L546,780.6 L547,779.5 L548,778.4 L549,777.0 L550,775.6 L551,774.4 L552,773.4 L553,772.7 L554,772.4 L555,772.3 L556,772.5 L557,772.8 L558,773.4 L559,773.8 L560,774.0 L561,774.2 L562,774.4 L563,774.8 L564,775.3 L565,775.8 L566,776.2 L567,776.2 L568,776.1 L569,776.3 L570,776.7 L571,777.3 L572,777.8 L573,778.1 L574,778.3 L575,778.5 L576,778.7 L577,778.8 L578,778.9 L579,779.3 L580,779.9 L581,780.6 L582,781.0 L583,781.1 L584,781.0 L585,781.4 L586,782.1 L587,783.5 L588,784.9 L589,786.4 L590,787.9 L591,789.3 L592,790.7 L593,792.1 L594,793.4 L595,794.8 L596,796.5 L597,798.3 L598,800.2 L599,802.1 L600,803.8 L601,805.1 L602,806.2 L603,807.1 L604,808.4 L605,810.2 L606,812.5 L607,814.1 L608,815.0 L609,815.1 L610,814.7 L611,814.3 L612,813.9 L613,813.9 L614,814.5 L615,815.9 L616,817.1 L617,817.4 L618,816.9 L619,815.6 L620,814.6 L621,814.3 L622,814.4 L623,814.4 L624,814.3 L625,814.1 L626,813.4 L627,812.1 L628,810.1 L629,808.1 L630,806.2 L631,804.6 L632,803.3 L633,802.3 L634,801.5 L635,800.7 L636,799.7 L637,798.5 L638,797.1 L639,795.6 L640,793.9 L641,792.2 L642,790.5 L643,788.7 L644,786.8 L645,784.9 L646,782.9 L647,781.0 L648,779.1 L649,777.4 L650,775.8 L651,774.4 L652,773.1 L653,772.0 L654,770.9 L655,770.0 L656,769.3 L657,768.8 L658,768.3 L659,767.6 L660,766.4 L661,765.1 L662,763.7 L663,762.5 L664,761.2 L665,760.0 L666,758.9 L667,757.7 L668,756.4 L669,755.1 L670,753.7 L671,752.2 L672,750.7 L673,749.6 L674,748.7 L675,747.8 L676,747.0 L677,746.2 L678,745.4 L679,744.6 L680,743.9 L681,743.2 L682,742.6 L683,741.9 L684,741.3 L685,740.8 L686,740.2 L687,739.7 L688,739.1 L689,738.5 L690,737.9 L691,737.4 L692,736.8 L693,736.3 L694,735.9 L695,735.4 L696,735.0 L697,734.7 L698,734.4 L699,734.2 L700,734.0 L701,733.9 L702,733.9 L703,733.9 L704,733.9 L705,734.0 L706,734.2 L707,734.5 L708,734.8 L709,735.1 L710,735.3 L711,735.5 L712,735.6 L713,735.7 L714,735.8 L715,736.0 L716,736.1 L717,736.4 L718,736.5 L719,736.7 L720,736.9 L721,737.0 L722,737.1 L723,737.4 L724,737.7 L725,738.1 L726,738.7 L727,739.3 L728,740.0 L729,740.9 L730,741.8 L731,742.7 L732,743.5 L733,744.3 L734,744.9 L735,745.5 L736,746.3 L737,747.2 L738,748.3 L739,749.6 L740,751.0 L741,752.4 L742,753.9 L743,755.3 L744,756.6 L745,757.8 L746,758.8 L747,759.8 L748,761.0 L749,762.3 L750,763.6 L751,764.9 L752,766.3 L753,767.5 L754,768.5 L755,769.1 L756,769.4 L757,769.7 L758,769.9 L759,769.9 L760,769.3 L761,768.3 L762,767.1 L763,765.7 L764,764.1 L765,762.6 L766,760.8 L767,758.8 L768,756.9 L769,754.8 L770,752.0 L771,749.3 L772,746.9 L773,744.8 L774,742.8 L775,740.5 L776,738.0 L777,735.1 L778,731.9 L779,728.6 L780,725.2 L781,721.8 L782,718.7 L783,716.2 L784,714.1 L785,712.2 L786,710.4 L787,708.4 L788,706.2 L789,703.5 L790,700.6 L791,698.0 L792,695.7 L793,693.8 L794,692.0 L795,690.3 L796,688.5 L797,686.2 L798,683.5 L799,680.4 L800,677.4 L801,674.8 L802,673.0 L803,671.8 L804,670.6 L805,669.3 L806,667.7 L807,665.7 L808,663.4 L809,661.1 L810,659.0 L811,657.4 L812,656.1 L813,655.0 L814,653.8 L815,652.8 L816,651.7 L817,650.4 L818,648.6 L819,646.9 L820,644.9 L821,643.0 L822,641.0 L823,639.4 L824,637.8 L825,636.6 L826,635.4 L827,634.1 L828,632.0 L829,629.4 L830,626.3 L831,623.8 L832,621.9 L833,620.6 L834,619.9 L835,619.5 L836,619.1 L837,618.3 L838,616.5 L839,613.6 L840,610.1 L841,607.3 L842,605.4 L843,604.4 L844,603.5 L845,603.0 L846,602.7 L847,601.6 L848,599.1 L849,595.5 L850,591.1 L851,587.1 L852,584.0 L852,606.2 L851,607.9 L850,610.6 L849,614.3 L848,617.9 L847,620.1 L846,621.3 L845,621.9 L844,622.5 L843,622.7 L842,623.1 L841,624.3 L840,626.5 L839,629.4 L838,632.2 L837,634.0 L836,634.7 L835,634.7 L834,634.5 L833,634.7 L832,635.7 L831,637.3 L830,639.6 L829,642.4 L828,644.9 L827,646.5 L826,647.4 L825,647.7 L824,648.5 L823,649.2 L822,650.4 L821,651.8 L820,653.6 L819,655.2 L818,656.8 L817,658.3 L816,659.4 L815,660.3 L814,661.4 L813,662.4 L812,663.5 L811,664.7 L810,666.4 L809,668.3 L808,670.8 L807,673.3 L806,675.5 L805,677.3 L804,678.8 L803,680.0 L802,681.2 L801,683.0 L800,685.5 L799,688.4 L798,691.4 L797,694.0 L796,696.1 L795,697.9 L794,699.5 L793,701.2 L792,703.1 L791,705.3 L790,707.9 L789,710.8 L788,713.6 L787,715.8 L786,717.8 L785,719.7 L784,721.7 L783,723.7 L782,726.1 L781,729.3 L780,732.6 L779,736.0 L778,739.3 L777,742.4 L776,745.2 L775,747.7 L774,750.0 L773,752.1 L772,754.4 L771,757.1 L770,760.1 L769,763.0 L768,765.2 L767,767.1 L766,769.0 L765,770.7 L764,772.1 L763,773.3 L762,774.4 L761,775.2 L760,775.9 L759,776.2 L758,776.3 L757,776.1 L756,775.9 L755,775.5 L754,774.8 L753,773.7 L752,772.5 L751,771.1 L750,769.5 L749,767.9 L748,766.3 L747,764.7 L746,763.4 L745,762.3 L744,760.9 L743,759.5 L742,757.9 L741,756.3 L740,754.8 L739,753.3 L738,751.9 L737,750.6 L736,749.4 L735,748.3 L734,747.4 L733,746.5 L732,745.6 L731,744.7 L730,743.6 L729,742.6 L728,741.7 L727,741.0 L726,740.4 L725,739.9 L724,739.4 L723,739.0 L722,738.7 L721,738.4 L720,738.2 L719,738.0 L718,737.8 L717,737.6 L716,737.3 L715,737.2 L714,737.0 L713,736.9 L712,736.8 L711,736.6 L710,736.4 L709,736.1 L708,735.7 L707,735.3 L706,735.1 L705,734.9 L704,734.8 L703,734.7 L702,734.7 L701,734.7 L700,734.8 L699,735.0 L698,735.2 L697,735.5 L696,735.8 L695,736.2 L694,736.7 L693,737.1 L692,737.6 L691,738.2 L690,738.7 L689,739.3 L688,739.9 L687,740.5 L686,741.0 L685,741.6 L684,742.1 L683,742.7 L682,743.4 L681,744.0 L680,744.7 L679,745.4 L678,746.2 L677,747.1 L676,748.0 L675,749.0 L674,750.0 L673,751.0 L672,752.3 L671,753.9 L670,755.5 L669,757.1 L668,758.6 L667,760.0 L666,761.4 L665,762.6 L664,764.0 L663,765.3 L662,766.8 L661,768.4 L660,770.0 L659,771.3 L658,772.2 L657,772.9 L656,773.5 L655,774.3 L654,775.2 L653,776.2 L652,777.4 L651,778.7 L650,780.2 L649,781.8 L648,783.5 L647,785.4 L646,787.4 L645,789.3 L644,791.3 L643,793.2 L642,795.0 L641,796.7 L640,798.4 L639,800.0 L638,801.5 L637,802.9 L636,804.1 L635,805.1 L634,805.8 L633,806.7 L632,807.7 L631,809.0 L630,810.7 L629,812.7 L628,815.0 L627,817.3 L626,819.1 L625,820.1 L624,821.1 L623,821.8 L622,822.6 L621,823.5 L620,824.8 L619,826.4 L618,828.2 L617,829.0 L616,828.7 L615,827.5 L614,826.1 L613,825.2 L612,824.7 L611,824.4 L610,824.1 L609,823.5 L608,822.6 L607,820.9 L606,818.4 L605,815.5 L604,813.2 L603,811.4 L602,810.2 L601,809.0 L600,807.4 L599,805.5 L598,803.5 L597,801.4 L596,799.5 L595,797.9 L594,796.5 L593,795.1 L592,793.9 L591,792.5 L590,791.1 L589,789.7 L588,788.3 L587,786.9 L586,785.7 L585,785.0 L584,784.8 L583,784.9 L582,784.8 L581,784.4 L580,783.9 L579,783.5 L578,783.4 L577,783.6 L576,783.8 L575,783.8 L574,783.6 L573,783.5 L572,783.3 L571,782.7 L570,781.9 L569,781.4 L568,781.2 L567,781.2 L566,781.1 L565,780.8 L564,780.2 L563,779.6 L562,779.1 L561,778.8 L560,778.6 L559,778.3 L558,777.9 L557,777.4 L556,777.0 L555,776.9 L554,777.0 L553,777.3 L552,777.7 L551,778.5 L550,779.5 L549,780.6 L548,781.8 L547,783.1 L546,784.3 L545,785.6 L544,786.9 L543,788.0 L542,788.9 L541,789.7 L540,790.4 L539,791.0 L538,791.4 L537,792.0 L536,793.4 L535,795.4 L534,797.8 L533,800.0 L532,802.1 L531,804.0 L530,806.0 L529,807.7 L528,809.6 L527,811.9 L526,814.7 L525,817.7 L524,820.7 L523,823.5 L522,825.9 L521,828.2 L520,830.2 L519,832.0 L518,833.5 L517,834.8 L516,835.8 L515,836.4 L514,836.5 L513,836.2 L512,835.7 L511,834.7 L510,833.6 L509,832.5 L508,832.0 L507,832.0 L506,832.5 L505,833.4 L504,834.6 L503,836.4 L502,838.6 L501,841.0 L500,842.9 L499,844.3 L498,845.2 L497,845.6 L496,845.6 L495,845.9 L494,846.4 L493,847.0 L492,847.8 L491,848.7 L490,849.7 L489,850.3 L488,850.6 L487,851.0 L486,851.4 L485,851.8 L484,852.1 L483,852.3 L482,851.8 L481,850.9 L480,849.6 L479,848.3 L478,846.7 L477,844.9 L476,843.6 L475,842.5 L474,841.8 L473,841.4 L472,840.9 L471,840.1 L470,838.9 L469,837.4 L468,835.8 L467,834.4 L466,832.9 L465,831.3 L464,829.7 L463,828.0 L462,826.4 L461,824.9 L460,823.5 L459,822.3 L458,821.8 L457,822.2 L456,823.4 L455,825.1 L454,827.0 L453,828.5 L452,828.9 L451,828.4 L450,828.0 L449,827.7 L448,827.8 L447,828.0 L446,828.8 L445,829.8 L444,830.7 L443,831.3 L442,831.3 L441,830.5 L440,829.8 L439,829.9 L438,830.7 L437,831.8 L436,832.9 L435,833.9 L434,834.9 L433,835.9 L432,836.9 L431,837.0 L430,836.7 L429,836.1 L428,835.4 L427,835.2 L426,835.5 L425,836.0 L424,836.5 L423,836.9 L422,837.1 L421,836.9 L420,836.1 L419,834.9 L418,833.9 L417,833.2 L416,833.1 L415,833.2 L414,833.2 L413,833.1 L412,833.0 L411,832.6 L410,832.1 L409,831.5 L408,831.3 L407,831.8 L406,832.9 L405,834.3 L404,835.9 L403,837.4 L402,838.8 L401,840.0 L400,841.2 L399,842.1 L398,843.5 L397,845.9 L396,849.1 L395,851.9 L394,854.1 L393,855.4 L392,856.3 L391,856.9 L390,857.4 L389,857.7 L388,858.1 L387,859.4 L386,861.4 L385,863.5 L384,865.3 L383,866.5 L382,867.6 L381,868.9 L380,870.5 L379,872.3 L378,874.6 L377,877.1 L376,879.4 L375,881.3 L374,882.4 L373,882.6 L372,881.8 L371,880.1 L370,877.8 L369,875.4 L368,872.7 L367,869.6 L366,866.8 L365,864.3 L364,862.2 L363,861.0 L362,860.7 L361,860.8 L360,861.6 L359,862.9 L358,864.9 L357,867.6 L356,870.8 L355,874.0 L354,877.1 L353,879.8 L352,881.6 L351,882.7 L350,883.0 L349,882.5 L348,881.3 L347,879.6 L346,878.0 L345,876.8 L344,875.7 L343,874.9 L342,874.9 L341,875.5 L340,876.4 L339,877.6 L338,879.2 L337,881.1 L336,883.3 L335,885.9 L334,888.8 L333,890.0 L332,889.0 L331,887.7 L330,886.5 L329,885.4 L328,884.4 L327,882.3 L326,879.4 L325,875.6 L324,871.6 L323,867.9 L322,864.3 L321,860.9 L320,858.8 L319,858.4 L318,857.6 L317,856.2 L316,854.1 L315,851.8 L314,850.6 L313,851.0 L312,853.6 L311,856.5 L310,859.4 L309,861.7 L308,863.7 L307,865.4 L306,866.9 L305,868.2 L304,869.3 L303,870.8 L302,873.0 L301,875.7 L300,877.5 L299,878.4 L298,879.0 L297,878.7 L296,877.7 L295,877.1 L294,877.0 L293,877.6 L292,878.8 L291,880.8 L290,882.7 L289,884.2 L288,885.4 L287,886.1 L286,886.3 L285,886.0 L284,886.1 L283,886.2 L282,885.6 L281,884.2 L280,882.8 L279,881.6 L278,880.2 L277,879.0 L276,878.1 L275,877.6 L274,876.7 L273,875.8 L272,875.2 L271,874.9 L270,874.4 L269,874.2 L268,874.5 L267,874.3 L266,874.1 L265,874.0 L264,873.7 L263,873.2 L262,872.8 L261,873.0 L260,873.1 L259,872.9 L258,872.7 L257,872.7 L256,873.0 L255,873.6 L254,874.7 L253,875.3 L252,875.6Z M904,679.6 L905,680.7 L906,682.6 L907,684.9 L908,687.4 L909,689.7 L910,691.8 L911,692.7 L912,692.8 L913,692.7 L914,692.5 L915,692.0 L916,692.4 L917,693.9 L918,695.6 L919,697.2 L920,698.8 L921,699.4 L922,698.9 L923,697.4 L924,695.8 L925,694.6 L926,694.5 L927,696.1 L928,698.4 L929,700.7 L930,702.5 L931,703.3 L932,703.0 L933,702.2 L934,701.6 L935,701.0 L936,701.2 L937,702.2 L938,704.2 L939,706.0 L940,707.6 L941,708.4 L942,708.6 L943,708.5 L944,708.4 L945,708.4 L946,709.2 L947,710.4 L948,712.4 L949,714.3 L950,716.2 L951,717.5 L952,718.2 L953,718.4 L954,718.8 L955,719.3 L956,719.7 L957,721.0 L958,723.0 L959,725.2 L960,727.4 L961,729.2 L962,730.1 L963,730.6 L964,731.0 L965,731.5 L966,732.3 L967,733.4 L968,734.8 L969,736.6 L970,738.3 L971,739.7 L972,740.6 L973,740.7 L974,740.6 L975,740.8 L976,741.2 L977,741.9 L978,742.8 L979,743.8 L980,744.6 L981,745.2 L982,745.7 L983,746.0 L984,746.2 L985,746.7 L986,747.9 L987,749.7 L988,751.7 L989,753.7 L990,755.4 L991,756.7 L992,757.7 L993,758.4 L994,758.9 L995,759.6 L996,760.5 L997,761.5 L998,762.6 L999,763.8 L1000,765.6 L1001,767.2 L1002,768.5 L1003,769.8 L1004,771.2 L1005,772.9 L1006,774.8 L1007,776.9 L1008,778.9 L1009,781.3 L1010,784.1 L1011,786.6 L1012,788.6 L1013,789.7 L1014,790.5 L1015,791.3 L1016,792.0 L1017,793.2 L1018,795.1 L1019,797.6 L1020,800.0 L1021,801.6 L1022,802.3 L1023,802.1 L1024,801.6 L1025,801.7 L1026,802.6 L1027,804.2 L1028,806.5 L1029,809.2 L1030,811.3 L1031,812.3 L1032,812.6 L1033,812.6 L1034,813.1 L1035,814.0 L1036,815.6 L1037,817.2 L1038,818.5 L1039,819.3 L1040,819.7 L1041,819.2 L1042,818.3 L1043,817.6 L1044,817.2 L1045,817.2 L1046,817.5 L1047,817.7 L1048,817.6 L1049,817.6 L1050,817.9 L1051,818.3 L1052,819.0 L1053,819.8 L1054,820.5 L1055,821.2 L1056,821.6 L1057,822.0 L1058,822.3 L1059,822.5 L1060,822.5 L1061,822.1 L1062,821.1 L1063,820.1 L1064,818.9 L1065,817.5 L1066,816.0 L1067,814.7 L1068,813.5 L1069,812.6 L1070,811.6 L1071,810.7 L1072,809.9 L1073,809.3 L1074,809.2 L1075,808.9 L1076,808.4 L1077,807.7 L1078,807.1 L1079,806.6 L1080,806.3 L1081,805.8 L1082,805.2 L1083,804.7 L1084,804.1 L1085,803.8 L1086,804.5 L1087,806.1 L1088,808.5 L1089,810.8 L1090,812.6 L1091,813.9 L1092,814.9 L1093,815.9 L1094,816.8 L1095,817.7 L1096,818.7 L1097,819.8 L1098,820.8 L1099,820.9 L1100,820.1 L1101,818.9 L1102,818.2 L1103,818.2 L1104,819.0 L1105,820.3 L1106,821.8 L1107,823.5 L1108,825.4 L1109,827.3 L1110,828.8 L1111,829.9 L1112,831.1 L1113,832.0 L1114,832.9 L1115,833.5 L1116,834.2 L1117,834.8 L1118,835.5 L1119,836.2 L1120,836.8 L1121,837.1 L1122,837.3 L1123,837.4 L1124,837.9 L1125,838.6 L1126,839.4 L1127,839.8 L1128,840.1 L1129,841.0 L1130,841.8 L1131,842.1 L1132,842.0 L1133,841.3 L1134,840.2 L1135,839.3 L1136,838.8 L1137,838.6 L1138,838.8 L1139,839.3 L1140,840.2 L1141,841.0 L1142,840.8 L1142,847.9 L1141,848.2 L1140,847.7 L1139,847.2 L1138,847.1 L1137,847.1 L1136,847.3 L1135,847.6 L1134,848.3 L1133,849.3 L1132,850.2 L1131,850.8 L1130,850.9 L1129,850.7 L1128,850.2 L1127,850.5 L1126,850.5 L1125,850.1 L1124,849.7 L1123,849.2 L1122,848.5 L1121,848.0 L1120,847.3 L1119,846.7 L1118,846.1 L1117,845.5 L1116,844.7 L1115,843.7 L1114,842.5 L1113,841.3 L1112,840.1 L1111,839.0 L1110,837.7 L1109,836.0 L1108,834.0 L1107,832.1 L1106,830.4 L1105,828.9 L1104,827.6 L1103,826.8 L1102,826.6 L1101,827.2 L1100,828.4 L1099,829.2 L1098,828.9 L1097,827.5 L1096,825.9 L1095,824.5 L1094,823.2 L1093,822.0 L1092,821.1 L1091,820.1 L1090,818.8 L1089,817.0 L1088,814.7 L1087,812.3 L1086,810.7 L1085,810.0 L1084,809.8 L1083,810.0 L1082,810.4 L1081,811.0 L1080,811.5 L1079,812.1 L1078,812.6 L1077,813.1 L1076,813.7 L1075,814.2 L1074,814.6 L1073,815.2 L1072,815.9 L1071,816.8 L1070,817.8 L1069,818.7 L1068,819.7 L1067,820.9 L1066,822.5 L1065,824.1 L1064,825.6 L1063,826.8 L1062,827.9 L1061,828.6 L1060,829.0 L1059,829.0 L1058,828.7 L1057,828.2 L1056,827.5 L1055,826.8 L1054,826.0 L1053,825.3 L1052,824.5 L1051,823.9 L1050,823.4 L1049,823.1 L1048,822.9 L1047,822.9 L1046,823.0 L1045,823.0 L1044,823.3 L1043,824.0 L1042,825.0 L1041,826.2 L1040,826.8 L1039,827.0 L1038,826.8 L1037,826.1 L1036,825.0 L1035,824.4 L1034,824.0 L1033,824.0 L1032,824.3 L1031,824.4 L1030,823.5 L1029,821.5 L1028,818.8 L1027,816.8 L1026,815.3 L1025,814.4 L1024,813.8 L1023,813.8 L1022,813.4 L1021,812.1 L1020,809.9 L1019,807.6 L1018,805.1 L1017,803.2 L1016,802.0 L1015,801.3 L1014,800.5 L1013,799.8 L1012,798.8 L1011,796.8 L1010,794.2 L1009,791.7 L1008,789.5 L1007,787.8 L1006,786.0 L1005,784.2 L1004,782.4 L1003,780.5 L1002,778.7 L1001,777.1 L1000,775.1 L999,773.1 L998,771.6 L997,770.4 L996,768.9 L995,767.6 L994,766.5 L993,765.7 L992,764.8 L991,763.7 L990,762.3 L989,760.5 L988,758.3 L987,756.3 L986,754.5 L985,753.2 L984,752.5 L983,752.2 L982,751.8 L981,751.3 L980,750.6 L979,749.8 L978,748.9 L977,748.0 L976,747.5 L975,747.3 L974,747.5 L973,747.9 L972,748.0 L971,747.3 L970,746.0 L969,744.3 L968,742.7 L967,741.3 L966,740.2 L965,739.5 L964,739.1 L963,738.9 L962,738.6 L961,737.9 L960,737.1 L959,735.9 L958,734.7 L957,733.7 L956,733.3 L955,732.9 L954,732.8 L953,732.7 L952,732.5 L951,731.8 L950,730.4 L949,728.6 L948,726.7 L947,725.0 L946,723.8 L945,723.4 L944,723.4 L943,723.5 L942,723.6 L941,723.7 L940,722.9 L939,721.4 L938,719.6 L937,717.8 L936,716.8 L935,716.7 L934,717.6 L933,719.1 L932,720.8 L931,721.4 L930,721.5 L929,720.8 L928,719.1 L927,717.4 L926,717.2 L925,717.6 L924,719.1 L923,720.7 L922,722.2 L921,722.7 L920,722.2 L919,720.6 L918,718.9 L917,717.3 L916,715.6 L915,714.4 L914,714.1 L913,713.4 L912,712.4 L911,710.9 L910,709.3 L909,706.5 L908,703.5 L907,700.4 L906,698.0 L905,696.1 L904,694.8Z" fill="#ff33a2" stroke="none"/>
<path d="M852.5,617.5 L856.0,567.5 L862.5,587.5 L865.0,562.5 L864.0,522.5 L868.0,520.0 L866.0,489.0 L870.0,486.0 L869.8,415.0 L872.5,387.5 L874.8,427.5 L874.6,500.0 L878.0,502.5 L877.0,562.5 L881.0,564.0 L880.5,620.0 L889.0,625.0 L889.0,650.0 L892.5,652.5 L892.5,672.5 L901.0,674.0 L904.0,707.5" stroke-width="5.4" stroke-linejoin="miter" stroke-linecap="butt"/>
</g>
<line x1="472.0" y1="535.0" x2="441.9" y2="568.5" stroke="#000" stroke-width="8.6"/><polygon points="428.5,583.4 434.5,559.2 451.9,574.9" fill="#000"/>
<line x1="472.0" y1="535.0" x2="447.0" y2="783.8" stroke="#000" stroke-width="8.6"/><polygon points="445.0,803.7 435.5,780.6 458.9,783.0" fill="#000"/>
<line x1="602.0" y1="488.0" x2="584.2" y2="532.4" stroke="#000" stroke-width="8.6"/><polygon points="576.8,551.0 574.1,526.2 595.9,534.9" fill="#000"/>
<line x1="602.0" y1="488.0" x2="576.9" y2="751.1" stroke="#000" stroke-width="8.6"/><polygon points="575.0,771.0 565.4,748.0 588.8,750.2" fill="#000"/>
<line x1="726.0" y1="422.0" x2="712.0" y2="480.0" stroke="#000" stroke-width="8.6"/><polygon points="707.3,499.4 701.0,475.3 723.9,480.8" fill="#000"/>
<line x1="726.0" y1="422.0" x2="708.2" y2="710.0" stroke="#000" stroke-width="8.6"/><polygon points="707.0,730.0 696.6,707.3 720.1,708.8" fill="#000"/>
<rect x="446.3" y="503.7" width="26.5" height="4.6" fill="#000"/>
<text x="478.5" y="521.5" style="font-family:'Liberation Sans',sans-serif;font-weight:bold;font-size:52px" fill="#000">3</text>
<rect x="578" y="446.9" width="26.5" height="4.6" fill="#000"/>
<text x="610" y="464" style="font-family:'Liberation Sans',sans-serif;font-weight:bold;font-size:52px" fill="#000">2</text>
<rect x="693" y="374.7" width="26.5" height="4.6" fill="#000"/>
<polygon points="727.9,360 738.2,354.3 745.8,354.3 745.8,392 736.4,392 736.4,364 729,368" fill="#000"/>
<rect x="193.4" y="80.2" width="323.8" height="138.6" fill="#fff" stroke="#262626" stroke-width="3"/>
<line x1="197.4" y1="115.6" x2="299.8" y2="115.6" stroke="#0000ff" stroke-width="5"/>
<line x1="197.4" y1="183.1" x2="299.8" y2="183.1" stroke="#ff1f98" stroke-width="4.2"/>
<text x="309.5" y="134.3" font-size="52" letter-spacing="0.8" fill="#111">Sample 3</text>
<text x="309.5" y="198.1" font-size="52" letter-spacing="0.8" fill="#111">Sample 4</text>
<text x="113.1" y="1028" font-size="46" font-weight="bold" text-anchor="middle" fill="#111">29</text>
<text x="249.9" y="1028" font-size="46" font-weight="bold" text-anchor="middle" fill="#111">30</text>
<text x="386.8" y="1028" font-size="46" font-weight="bold" text-anchor="middle" fill="#111">31</text>
<text x="523.6" y="1028" font-size="46" font-weight="bold" text-anchor="middle" fill="#111">32</text>
<text x="660.5" y="1028" font-size="46" font-weight="bold" text-anchor="middle" fill="#111">33</text>
<text x="797.4" y="1028" font-size="46" font-weight="bold" text-anchor="middle" fill="#111">34</text>
<text x="934.2" y="1028" font-size="46" font-weight="bold" text-anchor="middle" fill="#111">35</text>
<text x="1071.0" y="1028" font-size="46" font-weight="bold" text-anchor="middle" fill="#111">36</text>
<text x="1207.9" y="1028" font-size="46" font-weight="bold" text-anchor="middle" fill="#111">37</text>
<text transform="translate(636,1098) scale(1.02,1)" font-size="50" font-weight="bold" fill="#111">2</text>
<text transform="translate(664,1098) scale(1.08,0.93)" font-size="50" font-weight="bold" fill="#111">θ</text>
<text transform="translate(700,1098) scale(1.2,1)" font-size="50" fill="#111">(</text>
<text transform="translate(717,1098) scale(0.95,1)" font-size="50" fill="#111">°</text>
<text transform="translate(733.5,1098) scale(1.2,1)" font-size="50" fill="#111">)</text>
<text transform="translate(71,504) rotate(-90)" font-size="52" font-weight="bold" letter-spacing="0.6" text-anchor="middle" fill="#111">Intensity (a.u.)</text>
</svg></body></html>
